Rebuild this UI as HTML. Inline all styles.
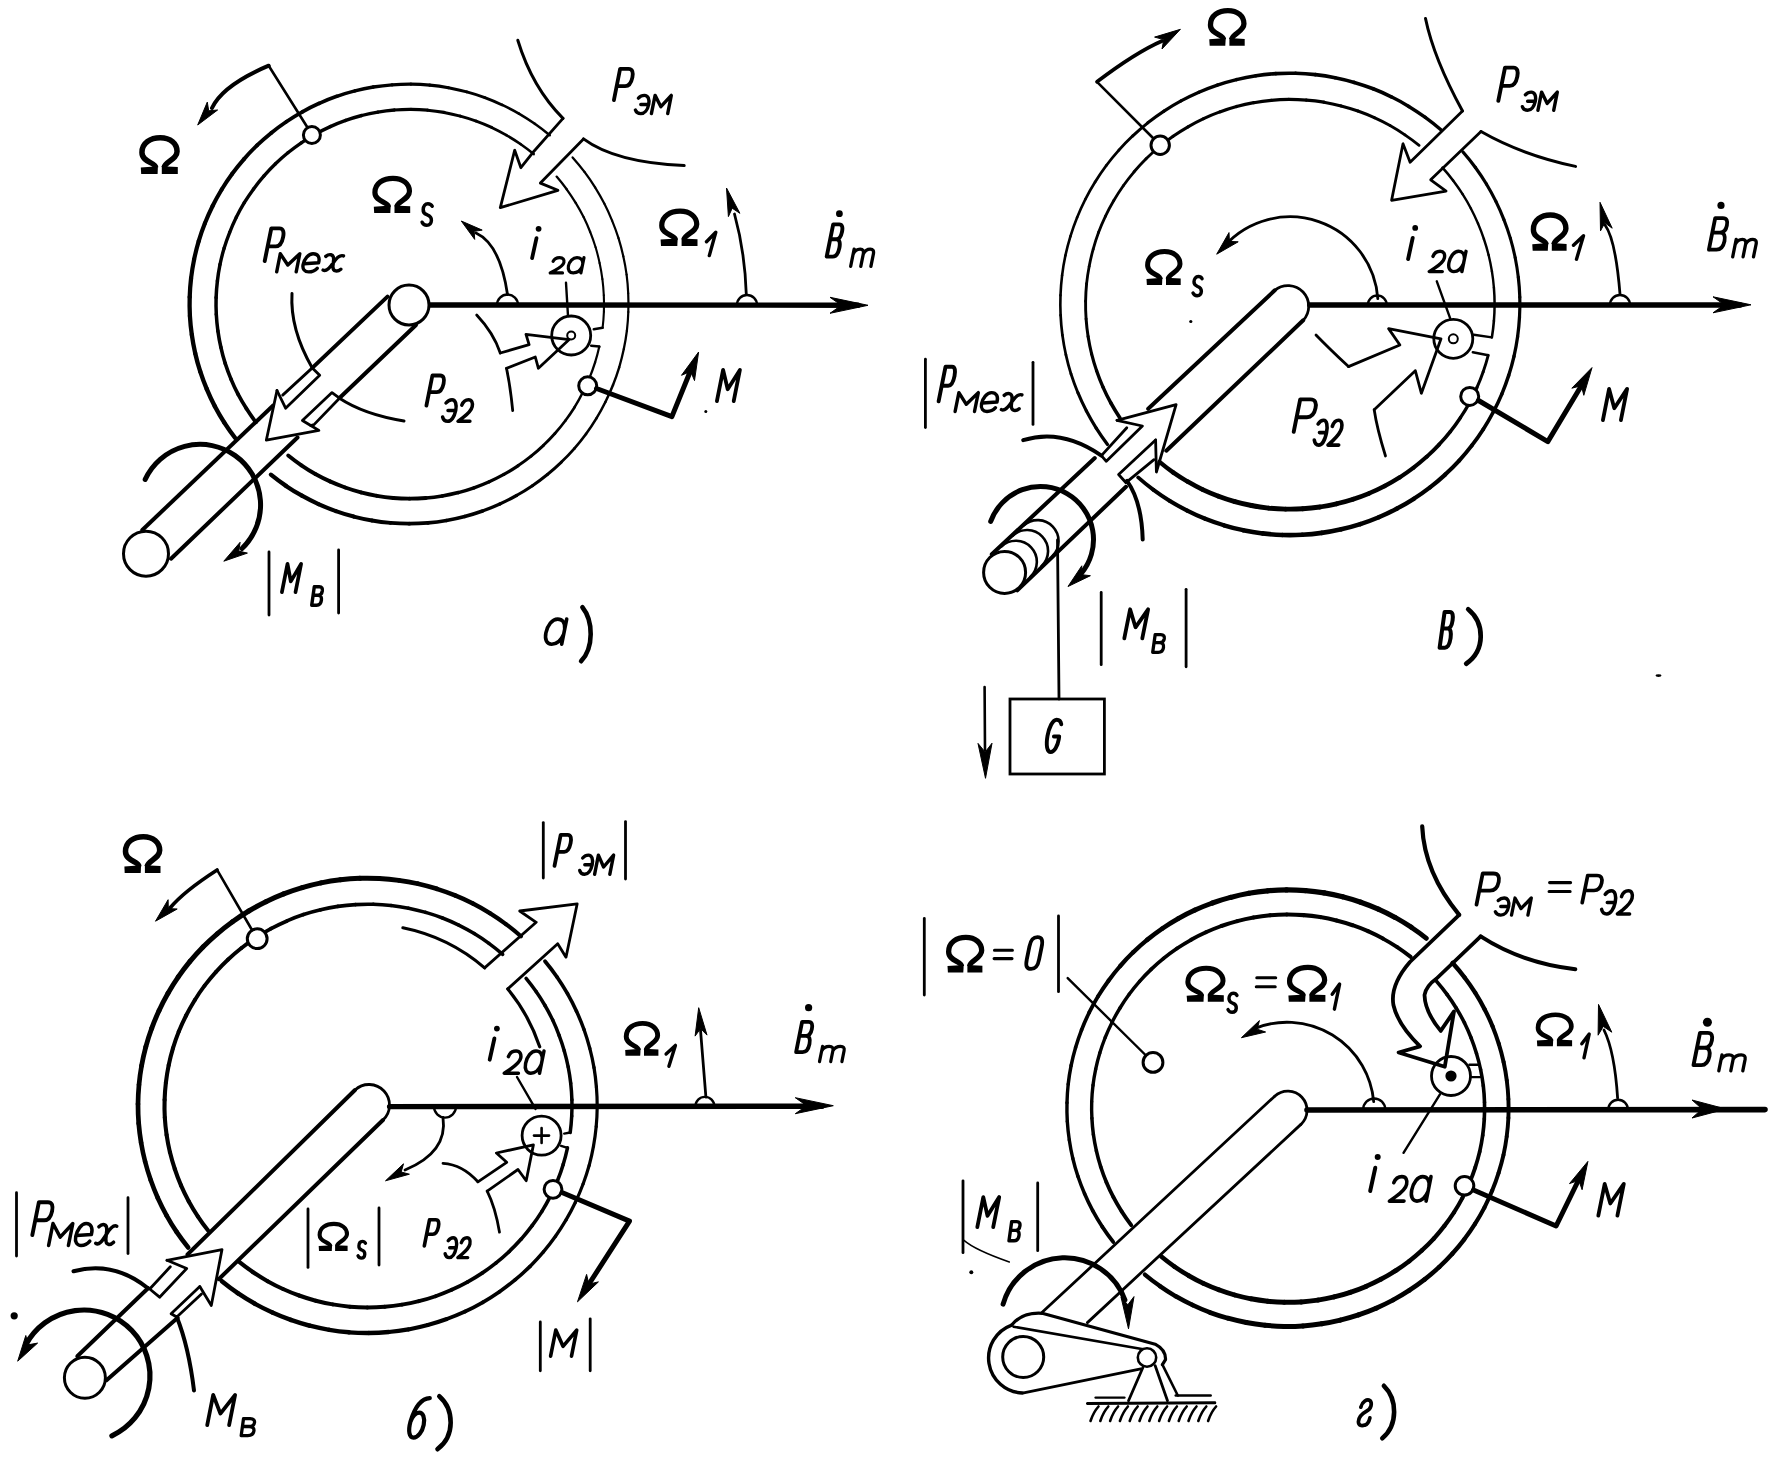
<!DOCTYPE html>
<html><head><meta charset="utf-8"><style>
html,body{margin:0;padding:0;background:#fff;width:1773px;height:1460px;overflow:hidden;}
svg{display:block;will-change:transform;}
</style></head><body>
<svg width="1773" height="1460" viewBox="0 0 1773 1460" stroke="#000" fill="none">
<rect width="1773" height="1460" fill="#fff" stroke="none"/>
<path d="M572.6,157.4 A219.4,219.8 0 0 1 584.5,171.9" stroke-width="2.3" fill="none" stroke-linecap="round" stroke-linejoin="round"/>
<path d="M584.5,171.9 A219.4,219.8 0 0 1 595.1,187.3" stroke-width="2.3" fill="none" stroke-linecap="round" stroke-linejoin="round"/>
<path d="M595.1,187.3 A219.4,219.8 0 0 1 604.3,203.6" stroke-width="2.2" fill="none" stroke-linecap="round" stroke-linejoin="round"/>
<path d="M604.3,203.6 A219.4,219.8 0 0 1 612.1,220.6" stroke-width="2.2" fill="none" stroke-linecap="round" stroke-linejoin="round"/>
<path d="M612.1,220.6 A219.4,219.8 0 0 1 618.5,238.2" stroke-width="2.2" fill="none" stroke-linecap="round" stroke-linejoin="round"/>
<path d="M618.5,238.2 A219.4,219.8 0 0 1 623.3,256.3" stroke-width="2.2" fill="none" stroke-linecap="round" stroke-linejoin="round"/>
<path d="M623.3,256.3 A219.4,219.8 0 0 1 626.6,274.7" stroke-width="2.2" fill="none" stroke-linecap="round" stroke-linejoin="round"/>
<path d="M626.6,274.7 A219.4,219.8 0 0 1 628.2,293.3" stroke-width="2.2" fill="none" stroke-linecap="round" stroke-linejoin="round"/>
<path d="M628.2,293.3 A219.4,219.8 0 0 1 628.3,312" stroke-width="2.2" fill="none" stroke-linecap="round" stroke-linejoin="round"/>
<path d="M628.3,312 A219.4,219.8 0 0 1 626.9,330.7" stroke-width="2.2" fill="none" stroke-linecap="round" stroke-linejoin="round"/>
<path d="M626.9,330.7 A219.4,219.8 0 0 1 623.8,349.1" stroke-width="2.3" fill="none" stroke-linecap="round" stroke-linejoin="round"/>
<path d="M623.8,349.1 A219.4,219.8 0 0 1 619.2,367.3" stroke-width="2.3" fill="none" stroke-linecap="round" stroke-linejoin="round"/>
<path d="M619.2,367.3 A219.4,219.8 0 0 1 613,385" stroke-width="2.4" fill="none" stroke-linecap="round" stroke-linejoin="round"/>
<path d="M613,385 A219.4,219.8 0 0 1 605.4,402" stroke-width="2.5" fill="none" stroke-linecap="round" stroke-linejoin="round"/>
<path d="M605.4,402 A219.4,219.8 0 0 1 596.4,418.4" stroke-width="2.5" fill="none" stroke-linecap="round" stroke-linejoin="round"/>
<path d="M596.4,418.4 A219.4,219.8 0 0 1 586,434" stroke-width="2.6" fill="none" stroke-linecap="round" stroke-linejoin="round"/>
<path d="M586,434 A219.4,219.8 0 0 1 574.3,448.6" stroke-width="2.7" fill="none" stroke-linecap="round" stroke-linejoin="round"/>
<path d="M574.3,448.6 A219.4,219.8 0 0 1 561.4,462.1" stroke-width="2.8" fill="none" stroke-linecap="round" stroke-linejoin="round"/>
<path d="M561.4,462.1 A219.4,219.8 0 0 1 547.4,474.5" stroke-width="2.9" fill="none" stroke-linecap="round" stroke-linejoin="round"/>
<path d="M547.4,474.5 A219.4,219.8 0 0 1 532.4,485.7" stroke-width="3" fill="none" stroke-linecap="round" stroke-linejoin="round"/>
<path d="M532.4,485.7 A219.4,219.8 0 0 1 516.5,495.5" stroke-width="3.1" fill="none" stroke-linecap="round" stroke-linejoin="round"/>
<path d="M516.5,495.5 A219.4,219.8 0 0 1 499.8,504" stroke-width="3.2" fill="none" stroke-linecap="round" stroke-linejoin="round"/>
<path d="M499.8,504 A219.4,219.8 0 0 1 482.5,511" stroke-width="3.3" fill="none" stroke-linecap="round" stroke-linejoin="round"/>
<path d="M482.5,511 A219.4,219.8 0 0 1 464.7,516.5" stroke-width="3.5" fill="none" stroke-linecap="round" stroke-linejoin="round"/>
<path d="M464.7,516.5 A219.4,219.8 0 0 1 446.4,520.5" stroke-width="3.6" fill="none" stroke-linecap="round" stroke-linejoin="round"/>
<path d="M446.4,520.5 A219.4,219.8 0 0 1 427.9,522.9" stroke-width="3.7" fill="none" stroke-linecap="round" stroke-linejoin="round"/>
<path d="M427.9,522.9 A219.4,219.8 0 0 1 409.2,523.7" stroke-width="3.8" fill="none" stroke-linecap="round" stroke-linejoin="round"/>
<path d="M409.2,523.7 A219.4,219.8 0 0 1 390.5,522.9" stroke-width="3.8" fill="none" stroke-linecap="round" stroke-linejoin="round"/>
<path d="M390.5,522.9 A219.4,219.8 0 0 1 372,520.5" stroke-width="3.9" fill="none" stroke-linecap="round" stroke-linejoin="round"/>
<path d="M372,520.5 A219.4,219.8 0 0 1 353.7,516.6" stroke-width="4" fill="none" stroke-linecap="round" stroke-linejoin="round"/>
<path d="M353.7,516.6 A219.4,219.8 0 0 1 335.9,511.1" stroke-width="4.1" fill="none" stroke-linecap="round" stroke-linejoin="round"/>
<path d="M335.9,511.1 A219.4,219.8 0 0 1 318.5,504.1" stroke-width="4.1" fill="none" stroke-linecap="round" stroke-linejoin="round"/>
<path d="M318.5,504.1 A219.4,219.8 0 0 1 301.9,495.7" stroke-width="4.2" fill="none" stroke-linecap="round" stroke-linejoin="round"/>
<path d="M301.9,495.7 A219.4,219.8 0 0 1 286,485.9" stroke-width="4.2" fill="none" stroke-linecap="round" stroke-linejoin="round"/>
<path d="M286,485.9 A219.4,219.8 0 0 1 270.9,474.7" stroke-width="4.3" fill="none" stroke-linecap="round" stroke-linejoin="round"/>
<path d="M235.2,438 A219.4,219.8 0 0 1 224.3,422.6" stroke-width="4.4" fill="none" stroke-linecap="round" stroke-linejoin="round"/>
<path d="M224.3,422.6 A219.4,219.8 0 0 1 214.8,406.2" stroke-width="4.4" fill="none" stroke-linecap="round" stroke-linejoin="round"/>
<path d="M214.8,406.2 A219.4,219.8 0 0 1 206.8,389.1" stroke-width="4.4" fill="none" stroke-linecap="round" stroke-linejoin="round"/>
<path d="M206.8,389.1 A219.4,219.8 0 0 1 200.2,371.4" stroke-width="4.4" fill="none" stroke-linecap="round" stroke-linejoin="round"/>
<path d="M200.2,371.4 A219.4,219.8 0 0 1 195.2,353.2" stroke-width="4.4" fill="none" stroke-linecap="round" stroke-linejoin="round"/>
<path d="M195.2,353.2 A219.4,219.8 0 0 1 191.8,334.6" stroke-width="4.3" fill="none" stroke-linecap="round" stroke-linejoin="round"/>
<path d="M191.8,334.6 A219.4,219.8 0 0 1 189.9,315.8" stroke-width="4.3" fill="none" stroke-linecap="round" stroke-linejoin="round"/>
<path d="M189.9,315.8 A219.4,219.8 0 0 1 189.7,297" stroke-width="4.3" fill="none" stroke-linecap="round" stroke-linejoin="round"/>
<path d="M189.7,297 A219.4,219.8 0 0 1 191.1,278.1" stroke-width="4.3" fill="none" stroke-linecap="round" stroke-linejoin="round"/>
<path d="M191.1,278.1 A219.4,219.8 0 0 1 194.1,259.5" stroke-width="4.2" fill="none" stroke-linecap="round" stroke-linejoin="round"/>
<path d="M194.1,259.5 A219.4,219.8 0 0 1 198.7,241.1" stroke-width="4.2" fill="none" stroke-linecap="round" stroke-linejoin="round"/>
<path d="M198.7,241.1 A219.4,219.8 0 0 1 204.9,223.3" stroke-width="4.2" fill="none" stroke-linecap="round" stroke-linejoin="round"/>
<path d="M204.9,223.3 A219.4,219.8 0 0 1 212.6,206" stroke-width="4.1" fill="none" stroke-linecap="round" stroke-linejoin="round"/>
<path d="M212.6,206 A219.4,219.8 0 0 1 221.7,189.5" stroke-width="4.1" fill="none" stroke-linecap="round" stroke-linejoin="round"/>
<path d="M221.7,189.5 A219.4,219.8 0 0 1 232.2,173.8" stroke-width="4" fill="none" stroke-linecap="round" stroke-linejoin="round"/>
<path d="M232.2,173.8 A219.4,219.8 0 0 1 244,159.1" stroke-width="4" fill="none" stroke-linecap="round" stroke-linejoin="round"/>
<path d="M244,159.1 A219.4,219.8 0 0 1 257,145.4" stroke-width="3.9" fill="none" stroke-linecap="round" stroke-linejoin="round"/>
<path d="M257,145.4 A219.4,219.8 0 0 1 271.2,132.9" stroke-width="3.9" fill="none" stroke-linecap="round" stroke-linejoin="round"/>
<path d="M271.2,132.9 A219.4,219.8 0 0 1 286.3,121.7" stroke-width="3.8" fill="none" stroke-linecap="round" stroke-linejoin="round"/>
<path d="M286.3,121.7 A219.4,219.8 0 0 1 302.4,111.8" stroke-width="3.7" fill="none" stroke-linecap="round" stroke-linejoin="round"/>
<path d="M302.4,111.8 A219.4,219.8 0 0 1 319.3,103.3" stroke-width="3.7" fill="none" stroke-linecap="round" stroke-linejoin="round"/>
<path d="M319.3,103.3 A219.4,219.8 0 0 1 336.8,96.3" stroke-width="3.6" fill="none" stroke-linecap="round" stroke-linejoin="round"/>
<path d="M336.8,96.3 A219.4,219.8 0 0 1 354.9,90.9" stroke-width="3.5" fill="none" stroke-linecap="round" stroke-linejoin="round"/>
<path d="M354.9,90.9 A219.4,219.8 0 0 1 373.3,87" stroke-width="3.4" fill="none" stroke-linecap="round" stroke-linejoin="round"/>
<path d="M373.3,87 A219.4,219.8 0 0 1 392.1,84.8" stroke-width="3.3" fill="none" stroke-linecap="round" stroke-linejoin="round"/>
<path d="M392.1,84.8 A219.4,219.8 0 0 1 410.9,84.1" stroke-width="3.2" fill="none" stroke-linecap="round" stroke-linejoin="round"/>
<path d="M410.9,84.1 A219.4,219.8 0 0 1 429.8,85.1" stroke-width="3.1" fill="none" stroke-linecap="round" stroke-linejoin="round"/>
<path d="M429.8,85.1 A219.4,219.8 0 0 1 448.4,87.7" stroke-width="3.1" fill="none" stroke-linecap="round" stroke-linejoin="round"/>
<path d="M448.4,87.7 A219.4,219.8 0 0 1 466.8,91.9" stroke-width="3" fill="none" stroke-linecap="round" stroke-linejoin="round"/>
<path d="M466.8,91.9 A219.4,219.8 0 0 1 484.8,97.6" stroke-width="2.9" fill="none" stroke-linecap="round" stroke-linejoin="round"/>
<path d="M484.8,97.6 A219.4,219.8 0 0 1 502.2,104.9" stroke-width="2.8" fill="none" stroke-linecap="round" stroke-linejoin="round"/>
<path d="M502.2,104.9 A219.4,219.8 0 0 1 518.9,113.6" stroke-width="2.7" fill="none" stroke-linecap="round" stroke-linejoin="round"/>
<path d="M518.9,113.6 A219.4,219.8 0 0 1 534.8,123.8" stroke-width="2.6" fill="none" stroke-linecap="round" stroke-linejoin="round"/>
<path d="M534.8,123.8 A219.4,219.8 0 0 1 549.8,135.3" stroke-width="2.5" fill="none" stroke-linecap="round" stroke-linejoin="round"/>
<path d="M556.6,176.6 A194,194.7 0 0 1 566.7,189.3" stroke-width="2.3" fill="none" stroke-linecap="round" stroke-linejoin="round"/>
<path d="M566.7,189.3 A194,194.7 0 0 1 575.7,202.9" stroke-width="2.3" fill="none" stroke-linecap="round" stroke-linejoin="round"/>
<path d="M575.7,202.9 A194,194.7 0 0 1 583.6,217.1" stroke-width="2.2" fill="none" stroke-linecap="round" stroke-linejoin="round"/>
<path d="M583.6,217.1 A194,194.7 0 0 1 590.2,232" stroke-width="2.2" fill="none" stroke-linecap="round" stroke-linejoin="round"/>
<path d="M590.2,232 A194,194.7 0 0 1 595.6,247.3" stroke-width="2.1" fill="none" stroke-linecap="round" stroke-linejoin="round"/>
<path d="M595.6,247.3 A194,194.7 0 0 1 599.6,263" stroke-width="2.1" fill="none" stroke-linecap="round" stroke-linejoin="round"/>
<path d="M599.6,263 A194,194.7 0 0 1 602.4,279.1" stroke-width="2.1" fill="none" stroke-linecap="round" stroke-linejoin="round"/>
<path d="M602.4,279.1 A194,194.7 0 0 1 603.8,295.3" stroke-width="2.1" fill="none" stroke-linecap="round" stroke-linejoin="round"/>
<path d="M603.8,295.3 A194,194.7 0 0 1 603.9,311.6" stroke-width="2.1" fill="none" stroke-linecap="round" stroke-linejoin="round"/>
<path d="M603.9,311.6 A194,194.7 0 0 1 602.6,327.8" stroke-width="2.1" fill="none" stroke-linecap="round" stroke-linejoin="round"/>
<path d="M599.3,346.5 A194,194.7 0 0 1 595.1,362.4" stroke-width="2.2" fill="none" stroke-linecap="round" stroke-linejoin="round"/>
<path d="M595.1,362.4 A194,194.7 0 0 1 589.5,377.9" stroke-width="2.3" fill="none" stroke-linecap="round" stroke-linejoin="round"/>
<path d="M589.5,377.9 A194,194.7 0 0 1 582.6,392.8" stroke-width="2.4" fill="none" stroke-linecap="round" stroke-linejoin="round"/>
<path d="M582.6,392.8 A194,194.7 0 0 1 574.6,407.2" stroke-width="2.5" fill="none" stroke-linecap="round" stroke-linejoin="round"/>
<path d="M574.6,407.2 A194,194.7 0 0 1 565.3,420.7" stroke-width="2.6" fill="none" stroke-linecap="round" stroke-linejoin="round"/>
<path d="M565.3,420.7 A194,194.7 0 0 1 554.9,433.5" stroke-width="2.7" fill="none" stroke-linecap="round" stroke-linejoin="round"/>
<path d="M554.9,433.5 A194,194.7 0 0 1 543.5,445.3" stroke-width="2.8" fill="none" stroke-linecap="round" stroke-linejoin="round"/>
<path d="M543.5,445.3 A194,194.7 0 0 1 531.1,456.1" stroke-width="3" fill="none" stroke-linecap="round" stroke-linejoin="round"/>
<path d="M531.1,456.1 A194,194.7 0 0 1 517.9,465.8" stroke-width="3.1" fill="none" stroke-linecap="round" stroke-linejoin="round"/>
<path d="M517.9,465.8 A194,194.7 0 0 1 503.9,474.4" stroke-width="3.2" fill="none" stroke-linecap="round" stroke-linejoin="round"/>
<path d="M503.9,474.4 A194,194.7 0 0 1 489.2,481.7" stroke-width="3.3" fill="none" stroke-linecap="round" stroke-linejoin="round"/>
<path d="M489.2,481.7 A194,194.7 0 0 1 474,487.8" stroke-width="3.4" fill="none" stroke-linecap="round" stroke-linejoin="round"/>
<path d="M474,487.8 A194,194.7 0 0 1 458.3,492.6" stroke-width="3.5" fill="none" stroke-linecap="round" stroke-linejoin="round"/>
<path d="M458.3,492.6 A194,194.7 0 0 1 442.2,496" stroke-width="3.6" fill="none" stroke-linecap="round" stroke-linejoin="round"/>
<path d="M442.2,496 A194,194.7 0 0 1 425.9,498" stroke-width="3.7" fill="none" stroke-linecap="round" stroke-linejoin="round"/>
<path d="M425.9,498 A194,194.7 0 0 1 409.5,498.7" stroke-width="3.8" fill="none" stroke-linecap="round" stroke-linejoin="round"/>
<path d="M409.5,498.7 A194,194.7 0 0 1 393.2,498" stroke-width="3.8" fill="none" stroke-linecap="round" stroke-linejoin="round"/>
<path d="M393.2,498 A194,194.7 0 0 1 376.9,495.8" stroke-width="3.9" fill="none" stroke-linecap="round" stroke-linejoin="round"/>
<path d="M376.9,495.8 A194,194.7 0 0 1 360.9,492.4" stroke-width="3.9" fill="none" stroke-linecap="round" stroke-linejoin="round"/>
<path d="M360.9,492.4 A194,194.7 0 0 1 345.2,487.5" stroke-width="3.9" fill="none" stroke-linecap="round" stroke-linejoin="round"/>
<path d="M345.2,487.5 A194,194.7 0 0 1 330,481.4" stroke-width="3.9" fill="none" stroke-linecap="round" stroke-linejoin="round"/>
<path d="M330,481.4 A194,194.7 0 0 1 315.3,474" stroke-width="3.9" fill="none" stroke-linecap="round" stroke-linejoin="round"/>
<path d="M315.3,474 A194,194.7 0 0 1 301.4,465.3" stroke-width="3.9" fill="none" stroke-linecap="round" stroke-linejoin="round"/>
<path d="M301.4,465.3 A194,194.7 0 0 1 288.2,455.5" stroke-width="3.9" fill="none" stroke-linecap="round" stroke-linejoin="round"/>
<path d="M255.9,422.3 A194,194.7 0 0 1 246.4,408.6" stroke-width="3.8" fill="none" stroke-linecap="round" stroke-linejoin="round"/>
<path d="M246.4,408.6 A194,194.7 0 0 1 238,394.2" stroke-width="3.7" fill="none" stroke-linecap="round" stroke-linejoin="round"/>
<path d="M238,394.2 A194,194.7 0 0 1 231,379.1" stroke-width="3.7" fill="none" stroke-linecap="round" stroke-linejoin="round"/>
<path d="M231,379.1 A194,194.7 0 0 1 225.2,363.4" stroke-width="3.6" fill="none" stroke-linecap="round" stroke-linejoin="round"/>
<path d="M225.2,363.4 A194,194.7 0 0 1 220.9,347.3" stroke-width="3.6" fill="none" stroke-linecap="round" stroke-linejoin="round"/>
<path d="M220.9,347.3 A194,194.7 0 0 1 217.9,330.9" stroke-width="3.6" fill="none" stroke-linecap="round" stroke-linejoin="round"/>
<path d="M217.9,330.9 A194,194.7 0 0 1 216.3,314.3" stroke-width="3.5" fill="none" stroke-linecap="round" stroke-linejoin="round"/>
<path d="M216.3,314.3 A194,194.7 0 0 1 216.1,297.6" stroke-width="3.5" fill="none" stroke-linecap="round" stroke-linejoin="round"/>
<path d="M216.1,297.6 A194,194.7 0 0 1 217.4,281" stroke-width="3.5" fill="none" stroke-linecap="round" stroke-linejoin="round"/>
<path d="M217.4,281 A194,194.7 0 0 1 220,264.5" stroke-width="3.5" fill="none" stroke-linecap="round" stroke-linejoin="round"/>
<path d="M220,264.5 A194,194.7 0 0 1 224.1,248.3" stroke-width="3.4" fill="none" stroke-linecap="round" stroke-linejoin="round"/>
<path d="M224.1,248.3 A194,194.7 0 0 1 229.6,232.6" stroke-width="3.4" fill="none" stroke-linecap="round" stroke-linejoin="round"/>
<path d="M229.6,232.6 A194,194.7 0 0 1 236.3,217.3" stroke-width="3.4" fill="none" stroke-linecap="round" stroke-linejoin="round"/>
<path d="M236.3,217.3 A194,194.7 0 0 1 244.3,202.7" stroke-width="3.4" fill="none" stroke-linecap="round" stroke-linejoin="round"/>
<path d="M244.3,202.7 A194,194.7 0 0 1 253.6,188.9" stroke-width="3.4" fill="none" stroke-linecap="round" stroke-linejoin="round"/>
<path d="M253.6,188.9 A194,194.7 0 0 1 264,175.9" stroke-width="3.4" fill="none" stroke-linecap="round" stroke-linejoin="round"/>
<path d="M264,175.9 A194,194.7 0 0 1 275.5,163.8" stroke-width="3.4" fill="none" stroke-linecap="round" stroke-linejoin="round"/>
<path d="M275.5,163.8 A194,194.7 0 0 1 287.9,152.8" stroke-width="3.4" fill="none" stroke-linecap="round" stroke-linejoin="round"/>
<path d="M287.9,152.8 A194,194.7 0 0 1 301.3,142.8" stroke-width="3.4" fill="none" stroke-linecap="round" stroke-linejoin="round"/>
<path d="M301.3,142.8 A194,194.7 0 0 1 315.5,134.1" stroke-width="3.4" fill="none" stroke-linecap="round" stroke-linejoin="round"/>
<path d="M315.5,134.1 A194,194.7 0 0 1 330.3,126.6" stroke-width="3.4" fill="none" stroke-linecap="round" stroke-linejoin="round"/>
<path d="M330.3,126.6 A194,194.7 0 0 1 345.7,120.4" stroke-width="3.4" fill="none" stroke-linecap="round" stroke-linejoin="round"/>
<path d="M345.7,120.4 A194,194.7 0 0 1 361.7,115.5" stroke-width="3.4" fill="none" stroke-linecap="round" stroke-linejoin="round"/>
<path d="M361.7,115.5 A194,194.7 0 0 1 377.9,112.1" stroke-width="3.3" fill="none" stroke-linecap="round" stroke-linejoin="round"/>
<path d="M377.9,112.1 A194,194.7 0 0 1 394.4,110" stroke-width="3.3" fill="none" stroke-linecap="round" stroke-linejoin="round"/>
<path d="M394.4,110 A194,194.7 0 0 1 411,109.4" stroke-width="3.2" fill="none" stroke-linecap="round" stroke-linejoin="round"/>
<path d="M411,109.4 A194,194.7 0 0 1 427.6,110.2" stroke-width="3.2" fill="none" stroke-linecap="round" stroke-linejoin="round"/>
<path d="M427.6,110.2 A194,194.7 0 0 1 444.1,112.4" stroke-width="3.1" fill="none" stroke-linecap="round" stroke-linejoin="round"/>
<path d="M444.1,112.4 A194,194.7 0 0 1 460.3,116.1" stroke-width="3" fill="none" stroke-linecap="round" stroke-linejoin="round"/>
<path d="M460.3,116.1 A194,194.7 0 0 1 476.2,121.1" stroke-width="2.9" fill="none" stroke-linecap="round" stroke-linejoin="round"/>
<path d="M476.2,121.1 A194,194.7 0 0 1 491.6,127.4" stroke-width="2.9" fill="none" stroke-linecap="round" stroke-linejoin="round"/>
<path d="M491.6,127.4 A194,194.7 0 0 1 506.3,135.1" stroke-width="2.8" fill="none" stroke-linecap="round" stroke-linejoin="round"/>
<path d="M506.3,135.1 A194,194.7 0 0 1 520.4,144" stroke-width="2.7" fill="none" stroke-linecap="round" stroke-linejoin="round"/>
<path d="M520.4,144 A194,194.7 0 0 1 533.7,154.1" stroke-width="2.6" fill="none" stroke-linecap="round" stroke-linejoin="round"/>
<path d="M602.6,327.8 L593.8,329.3" stroke-width="2.6" fill="none" stroke-linecap="round" stroke-linejoin="round"/>
<path d="M599.3,346.5 L591.2,345.7" stroke-width="2.6" fill="none" stroke-linecap="round" stroke-linejoin="round"/>
<path d="M429,305 L858,305.2" stroke-width="5.4" fill="none" stroke-linecap="round" stroke-linejoin="round"/>
<path d="M868,305.3 L830,313.3 L841.4,305.3 L830,297.3 Z" stroke-width="1" fill="#000" stroke-linejoin="round"/>
<path d="M497,305 A10.5,10.5 0 0 1 518,305" stroke-width="2.4" fill="none" stroke-linecap="round" stroke-linejoin="round"/>
<path d="M737,305 A10,10 0 0 1 757,305" stroke-width="2.4" fill="none" stroke-linecap="round" stroke-linejoin="round"/>
<path d="M387.5,296.6 L312.3,367.9" stroke-width="4" fill="none" stroke-linecap="round" stroke-linejoin="round"/>
<path d="M272.9,405.7 L142.3,530" stroke-width="4" fill="none" stroke-linecap="round" stroke-linejoin="round"/>
<path d="M416,325 L339.5,398" stroke-width="4" fill="none" stroke-linecap="round" stroke-linejoin="round"/>
<path d="M297.5,437.5 L171,558.7" stroke-width="4" fill="none" stroke-linecap="round" stroke-linejoin="round"/>
<circle cx="409" cy="305" r="20" stroke-width="3" fill="#fff"/>
<circle cx="146" cy="553.7" r="22.5" stroke-width="3" fill="#fff"/>
<path d="M277,390.5 L285.6,408.2 L319.7,375.3 L312.3,367.9 L282.7,395.1" stroke-width="2.8" fill="none" stroke-linecap="round" stroke-linejoin="round"/>
<path d="M277,390.5 L266.3,440.2 L318.9,430.4 L310.7,425.5" stroke-width="2.8" fill="none" stroke-linecap="round" stroke-linejoin="round"/>
<path d="M310.7,425.5 L302.4,420.5 L332,392.6 L339.5,398.2 L314,424.6 L310.7,425.5" stroke-width="2.8" fill="none" stroke-linecap="round" stroke-linejoin="round"/>
<path d="M292,293.5 Q289.9,329.3 312.3,367.9" stroke-width="3" fill="none" stroke-linecap="round" stroke-linejoin="round"/>
<path d="M339.5,398.2 Q364.2,414.5 404,420.9" stroke-width="3" fill="none" stroke-linecap="round" stroke-linejoin="round"/>
<path d="M145.2,479.4 A60.5,60.5 0 1 1 242,548.5" stroke-width="5" fill="none" stroke-linecap="round" stroke-linejoin="round"/>
<path d="M223.8,561.2 L240.1,542.3 L238.8,551.1 L247.4,553.1 Z" stroke-width="1" fill="#000" stroke-linejoin="round"/>
<circle cx="311.9" cy="135" r="8.5" stroke-width="3" fill="#fff"/>
<path d="M307.5,127.5 L268.7,65.7" stroke-width="2.6" fill="none" stroke-linecap="round" stroke-linejoin="round"/>
<path d="M268.7,65.7 Q222.7,85.2 212,108" stroke-width="4" fill="none" stroke-linecap="round" stroke-linejoin="round"/>
<path d="M197.7,125 L207.3,102.1 L208.7,110.8 L217.6,110 Z" stroke-width="1" fill="#000" stroke-linejoin="round"/>
<path d="M507.5,294.5 Q500.2,244.2 476,233" stroke-width="2.8" fill="none" stroke-linecap="round" stroke-linejoin="round"/>
<path d="M461.3,221 L482.2,230.1 L474.2,231.3 L474.7,239.4 Z" stroke-width="1" fill="#000" stroke-linejoin="round"/>
<path d="M746.3,294.5 Q745,252.4 734.5,214" stroke-width="2.8" fill="none" stroke-linecap="round" stroke-linejoin="round"/>
<path d="M726.5,188 L739.9,213.3 L732.2,208.2 L728.4,216.6 Z" stroke-width="1" fill="#000" stroke-linejoin="round"/>
<circle cx="587.7" cy="385.8" r="9" stroke-width="3" fill="#fff"/>
<path d="M596.5,388.5 L671.9,416.6 L690,372" stroke-width="5" fill="none" stroke-linecap="round" stroke-linejoin="round"/>
<path d="M698.6,352 L694.5,380.6 L690.7,371.4 L681.5,375.3 Z" stroke-width="1" fill="#000" stroke-linejoin="round"/>
<circle cx="571.2" cy="335.5" r="19.5" stroke-width="2.8" fill="#fff"/>
<circle cx="571.2" cy="335.5" r="4" stroke-width="2" fill="#fff"/>
<path d="M566,282.7 L568,316" stroke-width="2.4" fill="none" stroke-linecap="round" stroke-linejoin="round"/>
<path d="M476.7,315 Q493.5,332.8 500.3,353" stroke-width="2.8" fill="none" stroke-linecap="round" stroke-linejoin="round"/>
<path d="M500.3,353 L529.1,344.7 L526,334.4 L569.2,339.6 L538.4,368.3 L535.3,357 L506.5,368.3" stroke-width="2.8" fill="none" stroke-linecap="round" stroke-linejoin="round"/>
<path d="M506.5,368.3 Q510.4,386.6 512.7,410.5" stroke-width="2.8" fill="none" stroke-linecap="round" stroke-linejoin="round"/>
<path d="M517.8,40.3 Q532.2,87.5 563,118.4" stroke-width="3" fill="none" stroke-linecap="round" stroke-linejoin="round"/>
<path d="M563,118.4 L532.2,153.3 L520.9,167.7 L514.7,150.2 L500.3,207.7 L557.9,190.3 L540.4,183.1 L583.5,138.9" stroke-width="2.8" fill="none" stroke-linecap="round" stroke-linejoin="round"/>
<path d="M583.5,138.9 Q615.4,162.6 684.2,165.6" stroke-width="3" fill="none" stroke-linecap="round" stroke-linejoin="round"/>
<path transform="matrix(39.000 0 0 39.000 140 135)" d="M0.40,0.83 C0.40,0.70 0.05,0.70 0.05,0.45 C0.05,0.20 0.27,0.07 0.52,0.07 C0.78,0.07 0.95,0.22 0.95,0.42 C0.95,0.63 0.64,0.68 0.62,0.83" fill="none" stroke-width="5.5" vector-effect="non-scaling-stroke" stroke-linecap="butt"/>
<path d="M140.8,167.4 L157.9,166.2 L157.6,174 L141.2,174 Z" stroke="none" fill="#000"/>
<path d="M161.8,166.2 L177.8,167 L177.8,174 L161.8,174 Z" stroke="none" fill="#000"/>
<path transform="matrix(38.400 0 0 37.300 373 175.7)" d="M0.40,0.83 C0.40,0.70 0.05,0.70 0.05,0.45 C0.05,0.20 0.27,0.07 0.52,0.07 C0.78,0.07 0.95,0.22 0.95,0.42 C0.95,0.63 0.64,0.68 0.62,0.83" fill="none" stroke-width="5.2" vector-effect="non-scaling-stroke" stroke-linecap="butt"/>
<path d="M373.8,206.7 L390.7,205.5 L390.3,213 L374.2,213 Z" stroke="none" fill="#000"/>
<path d="M394.5,205.5 L410.2,206.3 L410.2,213 L394.5,213 Z" stroke="none" fill="#000"/>
<path d="M 432.2,206.3 C 431.3,204.4 429.9,203.7 427.9,203.7 C 425.2,203.7 423.4,206.3 423.2,209.5 C 422.9,213.4 425.4,214.1 427.3,214.9 C 429.7,215.8 431.6,217.1 431.4,220.5 C 431.2,223.8 429.1,225.3 426.7,225.3 C 424.7,225.3 423,224.2 422.1,222.2" stroke-width="3.5" fill="none" stroke-linecap="round" stroke-linejoin="round"/>
<path d="M 264.7,261.1 L 271.3,228.4 L 279.4,228.4 C 283.5,228.4 284.1,232.4 283.1,237.2 C 282.1,242.5 279.6,246.4 275.8,246.4 L 267.7,246.4" stroke-width="3.9" fill="none" stroke-linecap="round" stroke-linejoin="round"/>
<path d="M 276.7,271.9 L 280.3,253.7 L 287.8,265 L 299.8,253.7 L 296.2,271.9" stroke-width="3.4" fill="none" stroke-linecap="round" stroke-linejoin="round"/>
<path d="M 304.1,263.7 L 318.6,262.8 C 320.2,257.3 317.8,253.7 313.1,253.7 C 308.4,253.7 304.2,259.2 303.1,264.6 C 302.2,269.2 304.8,271.9 308.7,271.9 C 312.6,271.9 315.2,270.5 317.2,268.3" stroke-width="3.4" fill="none" stroke-linecap="round" stroke-linejoin="round"/>
<path d="M 325.8,256.4 C 329,253.7 333.7,253.7 333.7,259.2 L 332.9,266.4 C 332.9,271.9 337.6,271.9 340.8,269.2 M 343.5,255.9 C 340.2,254.6 337,257.3 333.3,262.8 C 329.6,268.3 326.2,271.9 323.1,270.1" stroke-width="3.4" fill="none" stroke-linecap="round" stroke-linejoin="round"/>
<path d="M 613.9,100.1 L 620.1,68.9 L 628.5,68.9 C 632.7,68.9 633.3,72.7 632.4,77.3 C 631.4,82.3 629,86.1 625.1,86.1 L 616.7,86.1" stroke-width="3.8" fill="none" stroke-linecap="round" stroke-linejoin="round"/>
<path d="M 638.4,98.1 C 640.7,95.7 642.6,95.4 644.4,95.4 C 648.1,95.4 649.7,99.4 648.7,104.5 C 647.6,110 644.4,113.6 640.8,113.6 C 638.3,113.6 636.3,112.7 635.4,110 M 640.8,104.5 L 648.7,104.5" stroke-width="3.4" fill="none" stroke-linecap="round" stroke-linejoin="round"/>
<path d="M 651.4,113.6 L 655.1,95.4 L 660.9,106.7 L 671.3,95.4 L 667.7,113.6" stroke-width="3.4" fill="none" stroke-linecap="round" stroke-linejoin="round"/>
<path d="M 536.5,238.1 L 532.1,258.1" stroke-width="3.8" fill="none" stroke-linecap="round" stroke-linejoin="round"/>
<circle cx="538.6" cy="228.8" r="2.9" stroke="none" fill="#000"/>
<path d="M 553.1,261.4 C 554.3,258.8 556.9,257.6 559.6,257.6 C 563.1,257.6 564.5,259.8 563.9,262.5 C 563.3,265.6 559.2,268 555,270.3 L 550.2,272.9 L 562.5,272.9" stroke-width="3.2" fill="none" stroke-linecap="round" stroke-linejoin="round"/>
<path d="M 584,257.6 L 580.9,272.9 M 582.8,263.7 C 582.9,259.5 580.5,257.6 577,257.6 C 572.9,257.6 569.3,261.4 568.4,266 C 567.6,270.1 569.5,272.9 573.3,272.9 C 577,272.9 580.3,270.6 582.1,266.8" stroke-width="3.2" fill="none" stroke-linecap="round" stroke-linejoin="round"/>
<path transform="matrix(38.900 0 0 37.400 659.8 208.6)" d="M0.40,0.83 C0.40,0.70 0.05,0.70 0.05,0.45 C0.05,0.20 0.27,0.07 0.52,0.07 C0.78,0.07 0.95,0.22 0.95,0.42 C0.95,0.63 0.64,0.68 0.62,0.83" fill="none" stroke-width="5.2" vector-effect="non-scaling-stroke" stroke-linecap="butt"/>
<path d="M660.6,239.6 L677.7,238.5 L677.3,246 L661,246 Z" stroke="none" fill="#000"/>
<path d="M681.6,238.5 L697.5,239.3 L697.5,246 L681.6,246 Z" stroke="none" fill="#000"/>
<path d="M706.5,241.8 L715.8,232.3 L709.3,255.6" stroke-width="3.4" fill="none" stroke-linecap="round" stroke-linejoin="round"/>
<path d="M 826.7,256.6 L 833.2,224.4 L 839.2,224.4 C 842.4,224.4 842.9,227.6 842,231.8 C 841.1,236.3 839.1,239.2 836.2,239.2 L 830.2,239.2 M 836.2,239.2 C 839.8,239.2 840.3,243.1 839.4,247.9 C 838.3,253.4 836,256.6 832.7,256.6 L 826.7,256.6" stroke-width="3.9" fill="none" stroke-linecap="round" stroke-linejoin="round"/>
<circle cx="839.4" cy="213.7" r="3.4" stroke="none" fill="#000"/>
<path d="M 850.7,266.3 L 854.1,249.2 M 853.1,254.3 C 854.8,250.5 857.7,249.2 860.2,249.2 C 863,249.2 863.9,250.9 863.3,254 L 860.8,266.3 M 863.3,254 C 865,250.5 867.9,249.2 870.3,249.2 C 873.1,249.2 874,250.9 873.4,254 L 870.9,266.3" stroke-width="3.3" fill="none" stroke-linecap="round" stroke-linejoin="round"/>
<path d="M 716.9,401.1 L 723.1,369.9 L 727.7,389.2 L 739.9,369.9 L 733.7,401.1" stroke-width="3.8" fill="none" stroke-linecap="round" stroke-linejoin="round"/>
<circle cx="705.8" cy="411.5" r="1.5" stroke="none" fill="#000"/>
<path d="M 426.4,405.6 L 432.4,375.5 L 440.1,375.5 C 443.9,375.5 444.5,379.1 443.6,383.6 C 442.6,388.4 440.4,392.1 436.8,392.1 L 429.1,392.1" stroke-width="3.8" fill="none" stroke-linecap="round" stroke-linejoin="round"/>
<path d="M 446,403 C 448.3,400.2 450.2,399.7 452,399.7 C 455.5,399.7 456.9,404.5 455.7,410.5 C 454.4,417 451.2,421.3 447.7,421.3 C 445.3,421.3 443.4,420.2 442.6,417 M 448,410.5 L 455.7,410.5" stroke-width="3.5" fill="none" stroke-linecap="round" stroke-linejoin="round"/>
<path d="M 461.8,405.1 C 463.2,401.5 465.9,399.7 468.5,399.7 C 471.8,399.7 473,402.8 472.2,406.6 C 471.3,410.9 467.1,414.4 462.9,417.6 L 458,421.3 L 469.9,421.3" stroke-width="3.5" fill="none" stroke-linecap="round" stroke-linejoin="round"/>
<path d="M269,552 L269,615" stroke-width="2.8" fill="none" stroke-linecap="round" stroke-linejoin="round"/>
<path d="M338.6,550 L338.6,613" stroke-width="2.8" fill="none" stroke-linecap="round" stroke-linejoin="round"/>
<path d="M 281.9,592.1 L 287.5,563.9 L 290.8,581.4 L 301.1,563.9 L 295.5,592.1" stroke-width="3.7" fill="none" stroke-linecap="round" stroke-linejoin="round"/>
<path d="M 311.7,605.3 L 314.3,586.7 L 319.3,586.7 C 322,586.7 322.6,588.5 322.3,591 C 321.9,593.6 320.5,595.3 318.1,595.3 L 313.1,595.3 M 318.1,595.3 C 321,595.3 321.8,597.5 321.4,600.3 C 321,603.5 319.4,605.3 316.6,605.3 L 311.7,605.3" stroke-width="3.4" fill="none" stroke-linecap="round" stroke-linejoin="round"/>
<path d="M 566.7,619.1 L 561.7,644.2 M 564.7,629.1 C 565.2,622.1 562.2,619.1 557.7,619.1 C 552.2,619.1 547.4,625.4 545.9,632.9 C 544.5,639.7 546.9,644.2 551.7,644.2 C 556.6,644.2 561,640.4 563.7,634.2" stroke-width="3.6" fill="none" stroke-linecap="round" stroke-linejoin="round"/>
<path d="M 582.4,607.3 C 593.3,620.8 594,647.7 581.1,661.2" stroke-width="4.6" fill="none" stroke-linecap="round" stroke-linejoin="round"/>
<path d="M545,961.3 A229.6,227.4 0 0 1 557,977" stroke-width="3.8" fill="none" stroke-linecap="round" stroke-linejoin="round"/>
<path d="M557,977 A229.6,227.4 0 0 1 567.5,993.7" stroke-width="3.7" fill="none" stroke-linecap="round" stroke-linejoin="round"/>
<path d="M567.5,993.7 A229.6,227.4 0 0 1 576.5,1011.3" stroke-width="3.6" fill="none" stroke-linecap="round" stroke-linejoin="round"/>
<path d="M576.5,1011.3 A229.6,227.4 0 0 1 584,1029.5" stroke-width="3.5" fill="none" stroke-linecap="round" stroke-linejoin="round"/>
<path d="M584,1029.5 A229.6,227.4 0 0 1 589.8,1048.4" stroke-width="3.4" fill="none" stroke-linecap="round" stroke-linejoin="round"/>
<path d="M589.8,1048.4 A229.6,227.4 0 0 1 594,1067.6" stroke-width="3.3" fill="none" stroke-linecap="round" stroke-linejoin="round"/>
<path d="M594,1067.6 A229.6,227.4 0 0 1 596.4,1087.2" stroke-width="3.3" fill="none" stroke-linecap="round" stroke-linejoin="round"/>
<path d="M596.4,1087.2 A229.6,227.4 0 0 1 597.2,1106.9" stroke-width="3.2" fill="none" stroke-linecap="round" stroke-linejoin="round"/>
<path d="M597.2,1106.9 A229.6,227.4 0 0 1 596.2,1126.5" stroke-width="3.2" fill="none" stroke-linecap="round" stroke-linejoin="round"/>
<path d="M596.2,1126.5 A229.6,227.4 0 0 1 593.5,1146.1" stroke-width="3.2" fill="none" stroke-linecap="round" stroke-linejoin="round"/>
<path d="M593.5,1146.1 A229.6,227.4 0 0 1 589.2,1165.3" stroke-width="3.2" fill="none" stroke-linecap="round" stroke-linejoin="round"/>
<path d="M589.2,1165.3 A229.6,227.4 0 0 1 583.1,1184" stroke-width="3.2" fill="none" stroke-linecap="round" stroke-linejoin="round"/>
<path d="M583.1,1184 A229.6,227.4 0 0 1 575.4,1202.2" stroke-width="3.2" fill="none" stroke-linecap="round" stroke-linejoin="round"/>
<path d="M575.4,1202.2 A229.6,227.4 0 0 1 566.2,1219.7" stroke-width="3.3" fill="none" stroke-linecap="round" stroke-linejoin="round"/>
<path d="M566.2,1219.7 A229.6,227.4 0 0 1 555.5,1236.3" stroke-width="3.3" fill="none" stroke-linecap="round" stroke-linejoin="round"/>
<path d="M555.5,1236.3 A229.6,227.4 0 0 1 543.4,1251.9" stroke-width="3.4" fill="none" stroke-linecap="round" stroke-linejoin="round"/>
<path d="M543.4,1251.9 A229.6,227.4 0 0 1 530,1266.4" stroke-width="3.5" fill="none" stroke-linecap="round" stroke-linejoin="round"/>
<path d="M530,1266.4 A229.6,227.4 0 0 1 515.3,1279.7" stroke-width="3.6" fill="none" stroke-linecap="round" stroke-linejoin="round"/>
<path d="M515.3,1279.7 A229.6,227.4 0 0 1 499.5,1291.7" stroke-width="3.7" fill="none" stroke-linecap="round" stroke-linejoin="round"/>
<path d="M499.5,1291.7 A229.6,227.4 0 0 1 482.8,1302.3" stroke-width="3.8" fill="none" stroke-linecap="round" stroke-linejoin="round"/>
<path d="M482.8,1302.3 A229.6,227.4 0 0 1 465.1,1311.5" stroke-width="3.8" fill="none" stroke-linecap="round" stroke-linejoin="round"/>
<path d="M465.1,1311.5 A229.6,227.4 0 0 1 446.8,1319" stroke-width="3.9" fill="none" stroke-linecap="round" stroke-linejoin="round"/>
<path d="M446.8,1319 A229.6,227.4 0 0 1 427.8,1325" stroke-width="4" fill="none" stroke-linecap="round" stroke-linejoin="round"/>
<path d="M427.8,1325 A229.6,227.4 0 0 1 408.4,1329.4" stroke-width="4.1" fill="none" stroke-linecap="round" stroke-linejoin="round"/>
<path d="M408.4,1329.4 A229.6,227.4 0 0 1 388.7,1332" stroke-width="4.2" fill="none" stroke-linecap="round" stroke-linejoin="round"/>
<path d="M388.7,1332 A229.6,227.4 0 0 1 368.9,1333" stroke-width="4.3" fill="none" stroke-linecap="round" stroke-linejoin="round"/>
<path d="M368.9,1333 A229.6,227.4 0 0 1 349,1332.3" stroke-width="4.3" fill="none" stroke-linecap="round" stroke-linejoin="round"/>
<path d="M349,1332.3 A229.6,227.4 0 0 1 329.3,1329.8" stroke-width="4.4" fill="none" stroke-linecap="round" stroke-linejoin="round"/>
<path d="M329.3,1329.8 A229.6,227.4 0 0 1 309.8,1325.7" stroke-width="4.4" fill="none" stroke-linecap="round" stroke-linejoin="round"/>
<path d="M309.8,1325.7 A229.6,227.4 0 0 1 290.8,1319.9" stroke-width="4.5" fill="none" stroke-linecap="round" stroke-linejoin="round"/>
<path d="M290.8,1319.9 A229.6,227.4 0 0 1 272.4,1312.5" stroke-width="4.5" fill="none" stroke-linecap="round" stroke-linejoin="round"/>
<path d="M272.4,1312.5 A229.6,227.4 0 0 1 254.6,1303.6" stroke-width="4.5" fill="none" stroke-linecap="round" stroke-linejoin="round"/>
<path d="M254.6,1303.6 A229.6,227.4 0 0 1 237.8,1293.2" stroke-width="4.6" fill="none" stroke-linecap="round" stroke-linejoin="round"/>
<path d="M237.8,1293.2 A229.6,227.4 0 0 1 221.9,1281.3" stroke-width="4.6" fill="none" stroke-linecap="round" stroke-linejoin="round"/>
<path d="M188.2,1247.5 A229.6,227.4 0 0 1 176.6,1231.9" stroke-width="4.6" fill="none" stroke-linecap="round" stroke-linejoin="round"/>
<path d="M176.6,1231.9 A229.6,227.4 0 0 1 166.5,1215.3" stroke-width="4.6" fill="none" stroke-linecap="round" stroke-linejoin="round"/>
<path d="M166.5,1215.3 A229.6,227.4 0 0 1 157.8,1198" stroke-width="4.6" fill="none" stroke-linecap="round" stroke-linejoin="round"/>
<path d="M157.8,1198 A229.6,227.4 0 0 1 150.7,1180.1" stroke-width="4.6" fill="none" stroke-linecap="round" stroke-linejoin="round"/>
<path d="M150.7,1180.1 A229.6,227.4 0 0 1 145.1,1161.5" stroke-width="4.6" fill="none" stroke-linecap="round" stroke-linejoin="round"/>
<path d="M145.1,1161.5 A229.6,227.4 0 0 1 141.1,1142.6" stroke-width="4.6" fill="none" stroke-linecap="round" stroke-linejoin="round"/>
<path d="M141.1,1142.6 A229.6,227.4 0 0 1 138.7,1123.4" stroke-width="4.7" fill="none" stroke-linecap="round" stroke-linejoin="round"/>
<path d="M138.7,1123.4 A229.6,227.4 0 0 1 138,1104.1" stroke-width="4.7" fill="none" stroke-linecap="round" stroke-linejoin="round"/>
<path d="M138,1104.1 A229.6,227.4 0 0 1 139,1084.8" stroke-width="4.7" fill="none" stroke-linecap="round" stroke-linejoin="round"/>
<path d="M139,1084.8 A229.6,227.4 0 0 1 141.6,1065.7" stroke-width="4.7" fill="none" stroke-linecap="round" stroke-linejoin="round"/>
<path d="M141.6,1065.7 A229.6,227.4 0 0 1 145.8,1046.8" stroke-width="4.8" fill="none" stroke-linecap="round" stroke-linejoin="round"/>
<path d="M145.8,1046.8 A229.6,227.4 0 0 1 151.7,1028.4" stroke-width="4.8" fill="none" stroke-linecap="round" stroke-linejoin="round"/>
<path d="M151.7,1028.4 A229.6,227.4 0 0 1 159.1,1010.5" stroke-width="4.9" fill="none" stroke-linecap="round" stroke-linejoin="round"/>
<path d="M159.1,1010.5 A229.6,227.4 0 0 1 168,993.3" stroke-width="4.9" fill="none" stroke-linecap="round" stroke-linejoin="round"/>
<path d="M168,993.3 A229.6,227.4 0 0 1 178.3,976.9" stroke-width="4.9" fill="none" stroke-linecap="round" stroke-linejoin="round"/>
<path d="M178.3,976.9 A229.6,227.4 0 0 1 190,961.4" stroke-width="5" fill="none" stroke-linecap="round" stroke-linejoin="round"/>
<path d="M190,961.4 A229.6,227.4 0 0 1 203,947" stroke-width="5" fill="none" stroke-linecap="round" stroke-linejoin="round"/>
<path d="M203,947 A229.6,227.4 0 0 1 217.2,933.8" stroke-width="5" fill="none" stroke-linecap="round" stroke-linejoin="round"/>
<path d="M217.2,933.8 A229.6,227.4 0 0 1 232.5,921.7" stroke-width="5" fill="none" stroke-linecap="round" stroke-linejoin="round"/>
<path d="M232.5,921.7 A229.6,227.4 0 0 1 248.8,911" stroke-width="5.1" fill="none" stroke-linecap="round" stroke-linejoin="round"/>
<path d="M248.8,911 A229.6,227.4 0 0 1 265.9,901.7" stroke-width="5.1" fill="none" stroke-linecap="round" stroke-linejoin="round"/>
<path d="M265.9,901.7 A229.6,227.4 0 0 1 283.7,893.9" stroke-width="5.1" fill="none" stroke-linecap="round" stroke-linejoin="round"/>
<path d="M283.7,893.9 A229.6,227.4 0 0 1 302.2,887.6" stroke-width="5.1" fill="none" stroke-linecap="round" stroke-linejoin="round"/>
<path d="M302.2,887.6 A229.6,227.4 0 0 1 321.1,882.9" stroke-width="5" fill="none" stroke-linecap="round" stroke-linejoin="round"/>
<path d="M321.1,882.9 A229.6,227.4 0 0 1 340.4,879.8" stroke-width="5" fill="none" stroke-linecap="round" stroke-linejoin="round"/>
<path d="M340.4,879.8 A229.6,227.4 0 0 1 359.8,878.3" stroke-width="5" fill="none" stroke-linecap="round" stroke-linejoin="round"/>
<path d="M359.8,878.3 A229.6,227.4 0 0 1 379.3,878.5" stroke-width="4.9" fill="none" stroke-linecap="round" stroke-linejoin="round"/>
<path d="M379.3,878.5 A229.6,227.4 0 0 1 398.8,880.3" stroke-width="4.8" fill="none" stroke-linecap="round" stroke-linejoin="round"/>
<path d="M398.8,880.3 A229.6,227.4 0 0 1 418,883.7" stroke-width="4.7" fill="none" stroke-linecap="round" stroke-linejoin="round"/>
<path d="M418,883.7 A229.6,227.4 0 0 1 436.8,888.8" stroke-width="4.7" fill="none" stroke-linecap="round" stroke-linejoin="round"/>
<path d="M436.8,888.8 A229.6,227.4 0 0 1 455.1,895.4" stroke-width="4.5" fill="none" stroke-linecap="round" stroke-linejoin="round"/>
<path d="M455.1,895.4 A229.6,227.4 0 0 1 472.9,903.5" stroke-width="4.4" fill="none" stroke-linecap="round" stroke-linejoin="round"/>
<path d="M472.9,903.5 A229.6,227.4 0 0 1 489.8,913.1" stroke-width="4.3" fill="none" stroke-linecap="round" stroke-linejoin="round"/>
<path d="M489.8,913.1 A229.6,227.4 0 0 1 505.9,924.1" stroke-width="4.2" fill="none" stroke-linecap="round" stroke-linejoin="round"/>
<path d="M505.9,924.1 A229.6,227.4 0 0 1 520.9,936.3" stroke-width="4.1" fill="none" stroke-linecap="round" stroke-linejoin="round"/>
<path d="M526.1,978.4 A203.8,201.7 0 0 1 536.1,991.6" stroke-width="3.5" fill="none" stroke-linecap="round" stroke-linejoin="round"/>
<path d="M536.1,991.6 A203.8,201.7 0 0 1 545,1005.5" stroke-width="3.5" fill="none" stroke-linecap="round" stroke-linejoin="round"/>
<path d="M545,1005.5 A203.8,201.7 0 0 1 552.7,1020.1" stroke-width="3.5" fill="none" stroke-linecap="round" stroke-linejoin="round"/>
<path d="M552.7,1020.1 A203.8,201.7 0 0 1 559.1,1035.3" stroke-width="3.5" fill="none" stroke-linecap="round" stroke-linejoin="round"/>
<path d="M559.1,1035.3 A203.8,201.7 0 0 1 564.3,1050.9" stroke-width="3.5" fill="none" stroke-linecap="round" stroke-linejoin="round"/>
<path d="M564.3,1050.9 A203.8,201.7 0 0 1 568.2,1067" stroke-width="3.5" fill="none" stroke-linecap="round" stroke-linejoin="round"/>
<path d="M568.2,1067 A203.8,201.7 0 0 1 570.7,1083.2" stroke-width="3.5" fill="none" stroke-linecap="round" stroke-linejoin="round"/>
<path d="M570.7,1083.2 A203.8,201.7 0 0 1 571.9,1099.7" stroke-width="3.5" fill="none" stroke-linecap="round" stroke-linejoin="round"/>
<path d="M571.9,1099.7 A203.8,201.7 0 0 1 571.7,1116.1" stroke-width="3.5" fill="none" stroke-linecap="round" stroke-linejoin="round"/>
<path d="M571.7,1116.1 A203.8,201.7 0 0 1 570.2,1132.5" stroke-width="3.5" fill="none" stroke-linecap="round" stroke-linejoin="round"/>
<path d="M567.5,1147.8 A203.8,201.7 0 0 1 563.2,1164.4" stroke-width="3.5" fill="none" stroke-linecap="round" stroke-linejoin="round"/>
<path d="M563.2,1164.4 A203.8,201.7 0 0 1 557.5,1180.7" stroke-width="3.6" fill="none" stroke-linecap="round" stroke-linejoin="round"/>
<path d="M557.5,1180.7 A203.8,201.7 0 0 1 550.3,1196.4" stroke-width="3.6" fill="none" stroke-linecap="round" stroke-linejoin="round"/>
<path d="M550.3,1196.4 A203.8,201.7 0 0 1 541.9,1211.4" stroke-width="3.6" fill="none" stroke-linecap="round" stroke-linejoin="round"/>
<path d="M541.9,1211.4 A203.8,201.7 0 0 1 532.1,1225.7" stroke-width="3.6" fill="none" stroke-linecap="round" stroke-linejoin="round"/>
<path d="M532.1,1225.7 A203.8,201.7 0 0 1 521.2,1239.1" stroke-width="3.6" fill="none" stroke-linecap="round" stroke-linejoin="round"/>
<path d="M521.2,1239.1 A203.8,201.7 0 0 1 509.2,1251.5" stroke-width="3.7" fill="none" stroke-linecap="round" stroke-linejoin="round"/>
<path d="M509.2,1251.5 A203.8,201.7 0 0 1 496.1,1262.9" stroke-width="3.7" fill="none" stroke-linecap="round" stroke-linejoin="round"/>
<path d="M496.1,1262.9 A203.8,201.7 0 0 1 482.1,1273.1" stroke-width="3.7" fill="none" stroke-linecap="round" stroke-linejoin="round"/>
<path d="M482.1,1273.1 A203.8,201.7 0 0 1 467.3,1282.1" stroke-width="3.7" fill="none" stroke-linecap="round" stroke-linejoin="round"/>
<path d="M467.3,1282.1 A203.8,201.7 0 0 1 451.7,1289.8" stroke-width="3.8" fill="none" stroke-linecap="round" stroke-linejoin="round"/>
<path d="M451.7,1289.8 A203.8,201.7 0 0 1 435.6,1296.2" stroke-width="3.8" fill="none" stroke-linecap="round" stroke-linejoin="round"/>
<path d="M435.6,1296.2 A203.8,201.7 0 0 1 418.9,1301.2" stroke-width="3.8" fill="none" stroke-linecap="round" stroke-linejoin="round"/>
<path d="M418.9,1301.2 A203.8,201.7 0 0 1 401.9,1304.7" stroke-width="3.8" fill="none" stroke-linecap="round" stroke-linejoin="round"/>
<path d="M401.9,1304.7 A203.8,201.7 0 0 1 384.7,1306.8" stroke-width="3.9" fill="none" stroke-linecap="round" stroke-linejoin="round"/>
<path d="M384.7,1306.8 A203.8,201.7 0 0 1 367.3,1307.5" stroke-width="3.9" fill="none" stroke-linecap="round" stroke-linejoin="round"/>
<path d="M367.3,1307.5 A203.8,201.7 0 0 1 349.9,1306.7" stroke-width="3.9" fill="none" stroke-linecap="round" stroke-linejoin="round"/>
<path d="M349.9,1306.7 A203.8,201.7 0 0 1 332.7,1304.4" stroke-width="3.9" fill="none" stroke-linecap="round" stroke-linejoin="round"/>
<path d="M332.7,1304.4 A203.8,201.7 0 0 1 315.7,1300.7" stroke-width="4" fill="none" stroke-linecap="round" stroke-linejoin="round"/>
<path d="M315.7,1300.7 A203.8,201.7 0 0 1 299.1,1295.5" stroke-width="4" fill="none" stroke-linecap="round" stroke-linejoin="round"/>
<path d="M299.1,1295.5 A203.8,201.7 0 0 1 283,1289" stroke-width="4" fill="none" stroke-linecap="round" stroke-linejoin="round"/>
<path d="M283,1289 A203.8,201.7 0 0 1 267.6,1281.2" stroke-width="4" fill="none" stroke-linecap="round" stroke-linejoin="round"/>
<path d="M267.6,1281.2 A203.8,201.7 0 0 1 252.8,1272" stroke-width="4.1" fill="none" stroke-linecap="round" stroke-linejoin="round"/>
<path d="M252.8,1272 A203.8,201.7 0 0 1 238.9,1261.7" stroke-width="4.1" fill="none" stroke-linecap="round" stroke-linejoin="round"/>
<path d="M208.1,1230.6 A203.8,201.7 0 0 1 197.8,1216.3" stroke-width="4.1" fill="none" stroke-linecap="round" stroke-linejoin="round"/>
<path d="M197.8,1216.3 A203.8,201.7 0 0 1 188.7,1201.2" stroke-width="4.1" fill="none" stroke-linecap="round" stroke-linejoin="round"/>
<path d="M188.7,1201.2 A203.8,201.7 0 0 1 181,1185.4" stroke-width="4.1" fill="none" stroke-linecap="round" stroke-linejoin="round"/>
<path d="M181,1185.4 A203.8,201.7 0 0 1 174.8,1169" stroke-width="4.1" fill="none" stroke-linecap="round" stroke-linejoin="round"/>
<path d="M174.8,1169 A203.8,201.7 0 0 1 169.9,1152.1" stroke-width="4.1" fill="none" stroke-linecap="round" stroke-linejoin="round"/>
<path d="M169.9,1152.1 A203.8,201.7 0 0 1 166.6,1134.9" stroke-width="4.1" fill="none" stroke-linecap="round" stroke-linejoin="round"/>
<path d="M166.6,1134.9 A203.8,201.7 0 0 1 164.8,1117.5" stroke-width="4.1" fill="none" stroke-linecap="round" stroke-linejoin="round"/>
<path d="M164.8,1117.5 A203.8,201.7 0 0 1 164.6,1099.9" stroke-width="4.1" fill="none" stroke-linecap="round" stroke-linejoin="round"/>
<path d="M164.6,1099.9 A203.8,201.7 0 0 1 165.9,1082.4" stroke-width="4.1" fill="none" stroke-linecap="round" stroke-linejoin="round"/>
<path d="M165.9,1082.4 A203.8,201.7 0 0 1 168.7,1065.1" stroke-width="4.1" fill="none" stroke-linecap="round" stroke-linejoin="round"/>
<path d="M168.7,1065.1 A203.8,201.7 0 0 1 173,1048.1" stroke-width="4.1" fill="none" stroke-linecap="round" stroke-linejoin="round"/>
<path d="M173,1048.1 A203.8,201.7 0 0 1 178.8,1031.5" stroke-width="4" fill="none" stroke-linecap="round" stroke-linejoin="round"/>
<path d="M178.8,1031.5 A203.8,201.7 0 0 1 186.1,1015.5" stroke-width="4" fill="none" stroke-linecap="round" stroke-linejoin="round"/>
<path d="M186.1,1015.5 A203.8,201.7 0 0 1 194.7,1000.2" stroke-width="4" fill="none" stroke-linecap="round" stroke-linejoin="round"/>
<path d="M194.7,1000.2 A203.8,201.7 0 0 1 204.6,985.7" stroke-width="3.9" fill="none" stroke-linecap="round" stroke-linejoin="round"/>
<path d="M204.6,985.7 A203.8,201.7 0 0 1 215.8,972.1" stroke-width="3.9" fill="none" stroke-linecap="round" stroke-linejoin="round"/>
<path d="M215.8,972.1 A203.8,201.7 0 0 1 228.1,959.5" stroke-width="3.9" fill="none" stroke-linecap="round" stroke-linejoin="round"/>
<path d="M228.1,959.5 A203.8,201.7 0 0 1 241.5,948" stroke-width="3.9" fill="none" stroke-linecap="round" stroke-linejoin="round"/>
<path d="M241.5,948 A203.8,201.7 0 0 1 255.9,937.7" stroke-width="3.8" fill="none" stroke-linecap="round" stroke-linejoin="round"/>
<path d="M255.9,937.7 A203.8,201.7 0 0 1 271,928.6" stroke-width="3.8" fill="none" stroke-linecap="round" stroke-linejoin="round"/>
<path d="M271,928.6 A203.8,201.7 0 0 1 287,920.9" stroke-width="3.8" fill="none" stroke-linecap="round" stroke-linejoin="round"/>
<path d="M287,920.9 A203.8,201.7 0 0 1 303.5,914.6" stroke-width="3.7" fill="none" stroke-linecap="round" stroke-linejoin="round"/>
<path d="M303.5,914.6 A203.8,201.7 0 0 1 320.6,909.8" stroke-width="3.7" fill="none" stroke-linecap="round" stroke-linejoin="round"/>
<path d="M320.6,909.8 A203.8,201.7 0 0 1 337.9,906.4" stroke-width="3.7" fill="none" stroke-linecap="round" stroke-linejoin="round"/>
<path d="M337.9,906.4 A203.8,201.7 0 0 1 355.6,904.6" stroke-width="3.6" fill="none" stroke-linecap="round" stroke-linejoin="round"/>
<path d="M355.6,904.6 A203.8,201.7 0 0 1 373.3,904.3" stroke-width="3.6" fill="none" stroke-linecap="round" stroke-linejoin="round"/>
<path d="M373.3,904.3 A203.8,201.7 0 0 1 391,905.5" stroke-width="3.6" fill="none" stroke-linecap="round" stroke-linejoin="round"/>
<path d="M391,905.5 A203.8,201.7 0 0 1 408.5,908.2" stroke-width="3.6" fill="none" stroke-linecap="round" stroke-linejoin="round"/>
<path d="M408.5,908.2 A203.8,201.7 0 0 1 425.7,912.4" stroke-width="3.5" fill="none" stroke-linecap="round" stroke-linejoin="round"/>
<path d="M425.7,912.4 A203.8,201.7 0 0 1 442.5,918" stroke-width="3.5" fill="none" stroke-linecap="round" stroke-linejoin="round"/>
<path d="M442.5,918 A203.8,201.7 0 0 1 458.7,925.1" stroke-width="3.5" fill="none" stroke-linecap="round" stroke-linejoin="round"/>
<path d="M458.7,925.1 A203.8,201.7 0 0 1 474.2,933.6" stroke-width="3.5" fill="none" stroke-linecap="round" stroke-linejoin="round"/>
<path d="M474.2,933.6 A203.8,201.7 0 0 1 488.9,943.4" stroke-width="3.5" fill="none" stroke-linecap="round" stroke-linejoin="round"/>
<path d="M488.9,943.4 A203.8,201.7 0 0 1 502.7,954.4" stroke-width="3.5" fill="none" stroke-linecap="round" stroke-linejoin="round"/>
<path d="M570.2,1132.5 L564.2,1133.6" stroke-width="2.4" fill="none" stroke-linecap="round" stroke-linejoin="round"/>
<path d="M567.5,1147.8 L561.1,1145.9" stroke-width="2.4" fill="none" stroke-linecap="round" stroke-linejoin="round"/>
<path d="M402.9,927.8 A180,180 0 0 1 484.6,967.9" stroke-width="3.2" fill="none" stroke-linecap="round" stroke-linejoin="round"/>
<path d="M507.8,988.9 A182,182 0 0 1 539.7,1046.8" stroke-width="3.2" fill="none" stroke-linecap="round" stroke-linejoin="round"/>
<path d="M484.6,967.9 L536.2,922.3 L519.7,911 L577.2,903.8 L566,957.2 L557.7,943.8 L507.8,988.9" stroke-width="2.8" fill="none" stroke-linecap="round" stroke-linejoin="round"/>
<path d="M389.6,1106.6 L822,1106.2" stroke-width="5.4" fill="none" stroke-linecap="round" stroke-linejoin="round"/>
<path d="M833.3,1105.7 L795.3,1113.7 L806.7,1105.7 L795.3,1097.7 Z" stroke-width="1" fill="#000" stroke-linejoin="round"/>
<path d="M456,1106.6 A11,11 0 0 1 434,1106.6" stroke-width="2.4" fill="none" stroke-linecap="round" stroke-linejoin="round"/>
<path d="M695.4,1106.4 A9.5,9.5 0 0 1 714.4,1106.4" stroke-width="2.4" fill="none" stroke-linecap="round" stroke-linejoin="round"/>
<path d="M355,1090 A20.5,20.5 0 0 1 383,1120" stroke-width="2.8" fill="none" stroke-linecap="round" stroke-linejoin="round"/>
<path d="M355,1090 L187.5,1254.5" stroke-width="4" fill="none" stroke-linecap="round" stroke-linejoin="round"/>
<path d="M148,1288.2 L77.3,1356.2" stroke-width="4" fill="none" stroke-linecap="round" stroke-linejoin="round"/>
<path d="M383,1120 L218.7,1279.2" stroke-width="4" fill="none" stroke-linecap="round" stroke-linejoin="round"/>
<path d="M177.7,1317.8 L106.5,1380.2" stroke-width="4" fill="none" stroke-linecap="round" stroke-linejoin="round"/>
<circle cx="84.9" cy="1377.7" r="20.5" stroke-width="3" fill="#fff"/>
<path d="M167,1260.3 L222,1249.6 L211.3,1305.5 L199.8,1286.6" stroke-width="2.8" fill="none" stroke-linecap="round" stroke-linejoin="round"/>
<path d="M167,1260.3 L186.7,1268.5 L159.6,1297.2 L149.7,1289 L170.3,1266.8" stroke-width="2.8" fill="none" stroke-linecap="round" stroke-linejoin="round"/>
<path d="M199.8,1286.6 L171.1,1313.7 L176.8,1317 L201.5,1294" stroke-width="2.8" fill="none" stroke-linecap="round" stroke-linejoin="round"/>
<path d="M73.5,1271.2 Q113.2,1260.3 148,1288.2" stroke-width="4" fill="none" stroke-linecap="round" stroke-linejoin="round"/>
<path d="M176.8,1317 Q188.6,1346.3 194,1390.4" stroke-width="4" fill="none" stroke-linecap="round" stroke-linejoin="round"/>
<path d="M25.7,1345 A66,66 0 1 1 111.9,1435.8" stroke-width="5.2" fill="none" stroke-linecap="round" stroke-linejoin="round"/>
<path d="M17.7,1361.2 L25.8,1335.5 L28.2,1344.8 L37.6,1343.1 Z" stroke-width="1" fill="#000" stroke-linejoin="round"/>
<circle cx="257.2" cy="938.7" r="9.9" stroke-width="3" fill="#fff"/>
<path d="M252,930 L217.1,869.9" stroke-width="2.6" fill="none" stroke-linecap="round" stroke-linejoin="round"/>
<path d="M217.1,869.9 Q183.2,891.8 170,908" stroke-width="3.6" fill="none" stroke-linecap="round" stroke-linejoin="round"/>
<path d="M155.5,921.2 L168.1,899.7 L168.3,908.6 L177.2,909 Z" stroke-width="1" fill="#000" stroke-linejoin="round"/>
<path d="M443,1117.5 Q448,1152.2 405,1170" stroke-width="2.8" fill="none" stroke-linecap="round" stroke-linejoin="round"/>
<path d="M385.5,1180.8 L403.5,1163.8 L401.2,1172 L409.4,1174.2 Z" stroke-width="1" fill="#000" stroke-linejoin="round"/>
<path d="M705.9,1097 L700.5,1030" stroke-width="2.8" fill="none" stroke-linecap="round" stroke-linejoin="round"/>
<path d="M698.7,1007.7 L707,1035.1 L700.5,1028.6 L695.1,1036.1 Z" stroke-width="1" fill="#000" stroke-linejoin="round"/>
<circle cx="553" cy="1189.3" r="8.9" stroke-width="3" fill="#fff"/>
<path d="M562,1192.5 L629.5,1221.1 L589,1284" stroke-width="5" fill="none" stroke-linecap="round" stroke-linejoin="round"/>
<path d="M577.5,1301.8 L586.6,1274.4 L588.8,1284.1 L598.4,1281.9 Z" stroke-width="1" fill="#000" stroke-linejoin="round"/>
<circle cx="541.6" cy="1135.6" r="19.5" stroke-width="2.8" fill="#fff"/>
<path d="M534,1135.6 L549,1135.6" stroke-width="2.6" fill="none" stroke-linecap="round" stroke-linejoin="round"/>
<path d="M541.6,1128 L541.6,1143" stroke-width="2.6" fill="none" stroke-linecap="round" stroke-linejoin="round"/>
<path d="M517,1077 L535.5,1108.9" stroke-width="2.4" fill="none" stroke-linecap="round" stroke-linejoin="round"/>
<path d="M443,1163.3 Q462.6,1164.5 477.9,1181.8" stroke-width="2.8" fill="none" stroke-linecap="round" stroke-linejoin="round"/>
<path d="M477.9,1181.8 L506.7,1162.3 L496.4,1153 L533.4,1144.9 L526.2,1180.8 L518,1169.5 L487.2,1191.1" stroke-width="2.8" fill="none" stroke-linecap="round" stroke-linejoin="round"/>
<path d="M487.2,1191.1 Q495.4,1207.5 499.5,1232.2" stroke-width="2.8" fill="none" stroke-linecap="round" stroke-linejoin="round"/>
<path transform="matrix(38.000 0 0 39.100 123.6 833.9)" d="M0.40,0.83 C0.40,0.70 0.05,0.70 0.05,0.45 C0.05,0.20 0.27,0.07 0.52,0.07 C0.78,0.07 0.95,0.22 0.95,0.42 C0.95,0.63 0.64,0.68 0.62,0.83" fill="none" stroke-width="5.5" vector-effect="non-scaling-stroke" stroke-linecap="butt"/>
<path d="M124.4,866.4 L141.1,865.2 L140.7,873 L124.7,873 Z" stroke="none" fill="#000"/>
<path d="M144.9,865.2 L160.5,866 L160.5,873 L144.9,873 Z" stroke="none" fill="#000"/>
<path d="M543.3,822.6 L543.3,878" stroke-width="2.8" fill="none" stroke-linecap="round" stroke-linejoin="round"/>
<path d="M625.5,821.6 L625.5,879" stroke-width="2.8" fill="none" stroke-linecap="round" stroke-linejoin="round"/>
<path d="M 554.5,865.9 L 560.7,834.8 L 567.7,834.8 C 571.1,834.8 571.5,838.5 570.6,843.2 C 569.6,848.2 567.5,851.9 564.2,851.9 L 557.3,851.9" stroke-width="3.8" fill="none" stroke-linecap="round" stroke-linejoin="round"/>
<path d="M 582.7,858 C 584.9,855.5 586.7,855.1 588.4,855.1 C 591.9,855.1 593.3,859.3 592.2,864.7 C 591.1,870.5 588,874.3 584.6,874.3 C 582.3,874.3 580.5,873.3 579.7,870.5 M 584.8,864.7 L 592.2,864.7" stroke-width="3.4" fill="none" stroke-linecap="round" stroke-linejoin="round"/>
<path d="M 594.6,874.3 L 598.4,855.1 L 603.6,867 L 613.6,855.1 L 609.8,874.3" stroke-width="3.4" fill="none" stroke-linecap="round" stroke-linejoin="round"/>
<path transform="matrix(34.900 0 0 34.900 624.5 1020.9)" d="M0.40,0.83 C0.40,0.70 0.05,0.70 0.05,0.45 C0.05,0.20 0.27,0.07 0.52,0.07 C0.78,0.07 0.95,0.22 0.95,0.42 C0.95,0.63 0.64,0.68 0.62,0.83" fill="none" stroke-width="4.9" vector-effect="non-scaling-stroke" stroke-linecap="butt"/>
<path d="M625.2,1049.9 L640.6,1048.8 L640.2,1055.8 L625.5,1055.8 Z" stroke="none" fill="#000"/>
<path d="M644,1048.8 L658.4,1049.5 L658.4,1055.8 L644,1055.8 Z" stroke="none" fill="#000"/>
<path d="M666.1,1054 L675.4,1045.4 L668.9,1066.3" stroke-width="3.4" fill="none" stroke-linecap="round" stroke-linejoin="round"/>
<path d="M 796.1,1052.1 L 802.1,1021.9 L 808.6,1021.9 C 812.1,1021.9 812.7,1024.9 811.9,1028.8 C 811.1,1033.1 809,1035.8 805.8,1035.8 L 799.4,1035.8 M 805.8,1035.8 C 809.7,1035.8 810.4,1039.4 809.5,1043.9 C 808.5,1049.1 806.1,1052.1 802.6,1052.1 L 796.1,1052.1" stroke-width="3.8" fill="none" stroke-linecap="round" stroke-linejoin="round"/>
<circle cx="808.6" cy="1007.7" r="3.6" stroke="none" fill="#000"/>
<path d="M 819.5,1061.6 L 822.6,1046.3 M 821.7,1050.9 C 823.5,1047.5 826.6,1046.3 829.3,1046.3 C 832.4,1046.3 833.5,1047.8 832.9,1050.6 L 830.7,1061.6 M 832.9,1050.6 C 834.7,1047.5 837.8,1046.3 840.5,1046.3 C 843.6,1046.3 844.7,1047.8 844.1,1050.6 L 841.9,1061.6" stroke-width="3.2" fill="none" stroke-linecap="round" stroke-linejoin="round"/>
<path d="M 494.4,1038.5 L 489.7,1059.7" stroke-width="3.9" fill="none" stroke-linecap="round" stroke-linejoin="round"/>
<circle cx="496.9" cy="1028.6" r="2.9" stroke="none" fill="#000"/>
<path d="M 508.4,1056.6 C 509.8,1052.8 513,1051 516.1,1051 C 520,1051 521.5,1054.2 520.7,1058.2 C 519.8,1062.6 514.9,1066.1 510,1069.5 L 504.3,1073.3 L 518.4,1073.3" stroke-width="3.5" fill="none" stroke-linecap="round" stroke-linejoin="round"/>
<path d="M 544,1051 L 539.5,1073.3 M 542.2,1059.9 C 542.6,1053.7 540,1051 536,1051 C 531.2,1051 526.9,1056.6 525.6,1063.3 C 524.4,1069.3 526.5,1073.3 530.8,1073.3 C 535.1,1073.3 538.9,1069.9 541.3,1064.4" stroke-width="3.5" fill="none" stroke-linecap="round" stroke-linejoin="round"/>
<path d="M540.3,1322 L540.3,1370.8" stroke-width="2.8" fill="none" stroke-linecap="round" stroke-linejoin="round"/>
<path d="M590.2,1318.8 L590.2,1370.8" stroke-width="2.8" fill="none" stroke-linecap="round" stroke-linejoin="round"/>
<path d="M 550.6,1356.2 L 555.8,1330.1 L 563,1346.3 L 576.7,1330.1 L 571.5,1356.2" stroke-width="3.6" fill="none" stroke-linecap="round" stroke-linejoin="round"/>
<path d="M 424.3,1245.9 L 429.5,1219.8 L 435.7,1219.8 C 438.8,1219.8 439.2,1222.9 438.4,1226.9 C 437.5,1231 435.7,1234.2 432.8,1234.2 L 426.7,1234.2" stroke-width="3.6" fill="none" stroke-linecap="round" stroke-linejoin="round"/>
<path d="M 448.2,1240.7 C 450.2,1238.1 451.7,1237.7 453.2,1237.7 C 456.2,1237.7 457.3,1242.1 456.2,1247.7 C 455,1253.6 452.2,1257.6 449.2,1257.6 C 447.3,1257.6 445.7,1256.6 445.1,1253.6 M 449.7,1247.7 L 456.2,1247.7" stroke-width="3.4" fill="none" stroke-linecap="round" stroke-linejoin="round"/>
<path d="M 461.3,1242.7 C 462.5,1239.3 464.8,1237.7 467,1237.7 C 469.7,1237.7 470.6,1240.5 469.9,1244.1 C 469.1,1248 465.5,1251.2 462,1254.2 L 457.9,1257.6 L 467.7,1257.6" stroke-width="3.4" fill="none" stroke-linecap="round" stroke-linejoin="round"/>
<path d="M308,1209 L308,1267.4" stroke-width="2.8" fill="none" stroke-linecap="round" stroke-linejoin="round"/>
<path d="M379,1207.9 L379,1265" stroke-width="2.8" fill="none" stroke-linecap="round" stroke-linejoin="round"/>
<path transform="matrix(30.400 0 0 29.200 318.1 1221.8)" d="M0.40,0.83 C0.40,0.70 0.05,0.70 0.05,0.45 C0.05,0.20 0.27,0.07 0.52,0.07 C0.78,0.07 0.95,0.22 0.95,0.42 C0.95,0.63 0.64,0.68 0.62,0.83" fill="none" stroke-width="4.1" vector-effect="non-scaling-stroke" stroke-linecap="butt"/>
<path d="M318.7,1246 L332.1,1245.2 L331.8,1251 L319,1251 Z" stroke="none" fill="#000"/>
<path d="M335.1,1245.2 L347.6,1245.7 L347.6,1251 L335.1,1251 Z" stroke="none" fill="#000"/>
<path d="M 365.5,1243.3 C 364.8,1241.8 363.8,1241.3 362.4,1241.3 C 360.3,1241.3 359,1243.3 358.9,1245.8 C 358.7,1248.9 360.4,1249.4 361.8,1250 C 363.6,1250.7 365,1251.7 364.8,1254.4 C 364.6,1257 363.1,1258.1 361.3,1258.1 C 359.9,1258.1 358.7,1257.3 358,1255.8" stroke-width="3.3" fill="none" stroke-linecap="round" stroke-linejoin="round"/>
<path d="M16.5,1192.7 L16.5,1256" stroke-width="2.8" fill="none" stroke-linecap="round" stroke-linejoin="round"/>
<path d="M128,1197.7 L128,1253.5" stroke-width="2.8" fill="none" stroke-linecap="round" stroke-linejoin="round"/>
<path d="M 32.3,1235.1 L 38.9,1202.2 L 47.9,1202.2 C 52.4,1202.2 53.1,1206.2 52.1,1211.1 C 51,1216.4 48.5,1220.3 44.3,1220.3 L 35.3,1220.3" stroke-width="3.9" fill="none" stroke-linecap="round" stroke-linejoin="round"/>
<path d="M 48.6,1245.5 L 53,1223.5 L 60.2,1237.1 L 72.8,1223.5 L 68.4,1245.5" stroke-width="3.5" fill="none" stroke-linecap="round" stroke-linejoin="round"/>
<path d="M 76.7,1235.6 L 91.4,1234.5 C 93.2,1227.9 90.9,1223.5 86.2,1223.5 C 81.4,1223.5 77,1230.1 75.7,1236.7 C 74.6,1242.2 77.1,1245.5 81,1245.5 C 85,1245.5 87.7,1243.7 89.8,1241.1" stroke-width="3.5" fill="none" stroke-linecap="round" stroke-linejoin="round"/>
<path d="M 98.9,1226.8 C 102.3,1223.5 107.1,1223.5 106.8,1230.1 L 105.8,1238.9 C 105.5,1245.5 110.3,1245.5 113.6,1242.2 M 116.8,1226.2 C 113.6,1224.6 110.3,1227.9 106.3,1234.5 C 102.3,1241.1 98.8,1245.5 95.7,1243.3" stroke-width="3.5" fill="none" stroke-linecap="round" stroke-linejoin="round"/>
<path d="M 207.2,1425.1 L 213.2,1394.9 L 220.4,1413.6 L 235.1,1394.9 L 229.1,1425.1" stroke-width="3.8" fill="none" stroke-linecap="round" stroke-linejoin="round"/>
<path d="M 241.2,1435.6 L 243.5,1418.7 L 250.2,1418.7 C 253.8,1418.7 254.8,1420.4 254.5,1422.6 C 254.2,1424.9 252.4,1426.5 249.1,1426.5 L 242.4,1426.5 M 249.1,1426.5 C 253.1,1426.5 254.3,1428.5 253.9,1431.1 C 253.5,1433.9 251.4,1435.6 247.8,1435.6 L 241.2,1435.6" stroke-width="3.3" fill="none" stroke-linecap="round" stroke-linejoin="round"/>
<path d="M 429.8,1398.1 C 422.8,1398.5 415.3,1405.4 410.5,1421.5 C 407.7,1431.7 409.6,1437.7 413.4,1437.7 C 418,1437.7 422.3,1431.7 423.7,1424.8 C 425.1,1417.5 423,1412.6 419.2,1412.6 C 416.1,1412.6 412.8,1415.5 410.5,1421.5" stroke-width="4.2" fill="none" stroke-linecap="round" stroke-linejoin="round"/>
<path d="M 439.3,1396.3 C 454.3,1409.5 455.2,1436 437.5,1449.2" stroke-width="4.6" fill="none" stroke-linecap="round" stroke-linejoin="round"/>
<circle cx="14.2" cy="1315.8" r="3.6" stroke="none" fill="#000"/>
<path d="M1463,152 A229.8,230.9 0 0 1 1475.4,167.5" stroke-width="3.3" fill="none" stroke-linecap="round" stroke-linejoin="round"/>
<path d="M1475.4,167.5 A229.8,230.9 0 0 1 1486.4,184" stroke-width="3.2" fill="none" stroke-linecap="round" stroke-linejoin="round"/>
<path d="M1486.4,184 A229.8,230.9 0 0 1 1495.9,201.4" stroke-width="3.2" fill="none" stroke-linecap="round" stroke-linejoin="round"/>
<path d="M1495.9,201.4 A229.8,230.9 0 0 1 1503.9,219.6" stroke-width="3.2" fill="none" stroke-linecap="round" stroke-linejoin="round"/>
<path d="M1503.9,219.6 A229.8,230.9 0 0 1 1510.4,238.4" stroke-width="3.1" fill="none" stroke-linecap="round" stroke-linejoin="round"/>
<path d="M1510.4,238.4 A229.8,230.9 0 0 1 1515.2,257.7" stroke-width="3.1" fill="none" stroke-linecap="round" stroke-linejoin="round"/>
<path d="M1515.2,257.7 A229.8,230.9 0 0 1 1518.3,277.3" stroke-width="3.1" fill="none" stroke-linecap="round" stroke-linejoin="round"/>
<path d="M1518.3,277.3 A229.8,230.9 0 0 1 1519.8,297.1" stroke-width="3.2" fill="none" stroke-linecap="round" stroke-linejoin="round"/>
<path d="M1519.8,297.1 A229.8,230.9 0 0 1 1519.5,317" stroke-width="3.2" fill="none" stroke-linecap="round" stroke-linejoin="round"/>
<path d="M1519.5,317 A229.8,230.9 0 0 1 1517.6,336.7" stroke-width="3.3" fill="none" stroke-linecap="round" stroke-linejoin="round"/>
<path d="M1517.6,336.7 A229.8,230.9 0 0 1 1514,356.3" stroke-width="3.3" fill="none" stroke-linecap="round" stroke-linejoin="round"/>
<path d="M1514,356.3 A229.8,230.9 0 0 1 1508.7,375.4" stroke-width="3.4" fill="none" stroke-linecap="round" stroke-linejoin="round"/>
<path d="M1508.7,375.4 A229.8,230.9 0 0 1 1501.8,394.1" stroke-width="3.5" fill="none" stroke-linecap="round" stroke-linejoin="round"/>
<path d="M1501.8,394.1 A229.8,230.9 0 0 1 1493.3,412" stroke-width="3.6" fill="none" stroke-linecap="round" stroke-linejoin="round"/>
<path d="M1493.3,412 A229.8,230.9 0 0 1 1483.3,429.2" stroke-width="3.7" fill="none" stroke-linecap="round" stroke-linejoin="round"/>
<path d="M1483.3,429.2 A229.8,230.9 0 0 1 1471.9,445.4" stroke-width="3.8" fill="none" stroke-linecap="round" stroke-linejoin="round"/>
<path d="M1471.9,445.4 A229.8,230.9 0 0 1 1459.2,460.6" stroke-width="4" fill="none" stroke-linecap="round" stroke-linejoin="round"/>
<path d="M1459.2,460.6 A229.8,230.9 0 0 1 1445.2,474.6" stroke-width="4.1" fill="none" stroke-linecap="round" stroke-linejoin="round"/>
<path d="M1445.2,474.6 A229.8,230.9 0 0 1 1430,487.4" stroke-width="4.2" fill="none" stroke-linecap="round" stroke-linejoin="round"/>
<path d="M1430,487.4 A229.8,230.9 0 0 1 1413.8,498.8" stroke-width="4.3" fill="none" stroke-linecap="round" stroke-linejoin="round"/>
<path d="M1413.8,498.8 A229.8,230.9 0 0 1 1396.7,508.7" stroke-width="4.4" fill="none" stroke-linecap="round" stroke-linejoin="round"/>
<path d="M1396.7,508.7 A229.8,230.9 0 0 1 1378.8,517.2" stroke-width="4.5" fill="none" stroke-linecap="round" stroke-linejoin="round"/>
<path d="M1378.8,517.2 A229.8,230.9 0 0 1 1360.3,524.1" stroke-width="4.5" fill="none" stroke-linecap="round" stroke-linejoin="round"/>
<path d="M1360.3,524.1 A229.8,230.9 0 0 1 1341.2,529.3" stroke-width="4.6" fill="none" stroke-linecap="round" stroke-linejoin="round"/>
<path d="M1341.2,529.3 A229.8,230.9 0 0 1 1321.7,532.9" stroke-width="4.6" fill="none" stroke-linecap="round" stroke-linejoin="round"/>
<path d="M1321.7,532.9 A229.8,230.9 0 0 1 1302.1,534.8" stroke-width="4.6" fill="none" stroke-linecap="round" stroke-linejoin="round"/>
<path d="M1302.1,534.8 A229.8,230.9 0 0 1 1282.3,535" stroke-width="4.6" fill="none" stroke-linecap="round" stroke-linejoin="round"/>
<path d="M1282.3,535 A229.8,230.9 0 0 1 1262.6,533.4" stroke-width="4.6" fill="none" stroke-linecap="round" stroke-linejoin="round"/>
<path d="M1262.6,533.4 A229.8,230.9 0 0 1 1243.1,530.2" stroke-width="4.5" fill="none" stroke-linecap="round" stroke-linejoin="round"/>
<path d="M1243.1,530.2 A229.8,230.9 0 0 1 1223.9,525.3" stroke-width="4.4" fill="none" stroke-linecap="round" stroke-linejoin="round"/>
<path d="M1223.9,525.3 A229.8,230.9 0 0 1 1205.2,518.8" stroke-width="4.3" fill="none" stroke-linecap="round" stroke-linejoin="round"/>
<path d="M1205.2,518.8 A229.8,230.9 0 0 1 1187.2,510.6" stroke-width="4.2" fill="none" stroke-linecap="round" stroke-linejoin="round"/>
<path d="M1187.2,510.6 A229.8,230.9 0 0 1 1169.9,501" stroke-width="4.1" fill="none" stroke-linecap="round" stroke-linejoin="round"/>
<path d="M1169.9,501 A229.8,230.9 0 0 1 1153.5,489.9" stroke-width="4" fill="none" stroke-linecap="round" stroke-linejoin="round"/>
<path d="M1153.5,489.9 A229.8,230.9 0 0 1 1138.1,477.4" stroke-width="3.8" fill="none" stroke-linecap="round" stroke-linejoin="round"/>
<path d="M1107.5,444.4 A229.8,230.9 0 0 1 1096.2,428.1" stroke-width="3.3" fill="none" stroke-linecap="round" stroke-linejoin="round"/>
<path d="M1096.2,428.1 A229.8,230.9 0 0 1 1086.3,410.8" stroke-width="3.2" fill="none" stroke-linecap="round" stroke-linejoin="round"/>
<path d="M1086.3,410.8 A229.8,230.9 0 0 1 1077.9,392.7" stroke-width="3.1" fill="none" stroke-linecap="round" stroke-linejoin="round"/>
<path d="M1077.9,392.7 A229.8,230.9 0 0 1 1071,373.9" stroke-width="2.9" fill="none" stroke-linecap="round" stroke-linejoin="round"/>
<path d="M1071,373.9 A229.8,230.9 0 0 1 1065.9,354.7" stroke-width="2.8" fill="none" stroke-linecap="round" stroke-linejoin="round"/>
<path d="M1065.9,354.7 A229.8,230.9 0 0 1 1062.4,335" stroke-width="2.7" fill="none" stroke-linecap="round" stroke-linejoin="round"/>
<path d="M1062.4,335 A229.8,230.9 0 0 1 1060.6,315.1" stroke-width="2.7" fill="none" stroke-linecap="round" stroke-linejoin="round"/>
<path d="M1060.6,315.1 A229.8,230.9 0 0 1 1060.5,295.2" stroke-width="2.6" fill="none" stroke-linecap="round" stroke-linejoin="round"/>
<path d="M1060.5,295.2 A229.8,230.9 0 0 1 1062.1,275.3" stroke-width="2.6" fill="none" stroke-linecap="round" stroke-linejoin="round"/>
<path d="M1062.1,275.3 A229.8,230.9 0 0 1 1065.4,255.6" stroke-width="2.6" fill="none" stroke-linecap="round" stroke-linejoin="round"/>
<path d="M1065.4,255.6 A229.8,230.9 0 0 1 1070.4,236.3" stroke-width="2.6" fill="none" stroke-linecap="round" stroke-linejoin="round"/>
<path d="M1070.4,236.3 A229.8,230.9 0 0 1 1077.1,217.5" stroke-width="2.6" fill="none" stroke-linecap="round" stroke-linejoin="round"/>
<path d="M1077.1,217.5 A229.8,230.9 0 0 1 1085.3,199.3" stroke-width="2.6" fill="none" stroke-linecap="round" stroke-linejoin="round"/>
<path d="M1085.3,199.3 A229.8,230.9 0 0 1 1095.1,182" stroke-width="2.7" fill="none" stroke-linecap="round" stroke-linejoin="round"/>
<path d="M1095.1,182 A229.8,230.9 0 0 1 1106.3,165.5" stroke-width="2.8" fill="none" stroke-linecap="round" stroke-linejoin="round"/>
<path d="M1106.3,165.5 A229.8,230.9 0 0 1 1118.9,150.1" stroke-width="2.8" fill="none" stroke-linecap="round" stroke-linejoin="round"/>
<path d="M1118.9,150.1 A229.8,230.9 0 0 1 1132.8,135.8" stroke-width="2.9" fill="none" stroke-linecap="round" stroke-linejoin="round"/>
<path d="M1132.8,135.8 A229.8,230.9 0 0 1 1147.8,122.8" stroke-width="3" fill="none" stroke-linecap="round" stroke-linejoin="round"/>
<path d="M1147.8,122.8 A229.8,230.9 0 0 1 1164,111.1" stroke-width="3.1" fill="none" stroke-linecap="round" stroke-linejoin="round"/>
<path d="M1164,111.1 A229.8,230.9 0 0 1 1181,100.9" stroke-width="3.2" fill="none" stroke-linecap="round" stroke-linejoin="round"/>
<path d="M1181,100.9 A229.8,230.9 0 0 1 1198.9,92.2" stroke-width="3.3" fill="none" stroke-linecap="round" stroke-linejoin="round"/>
<path d="M1198.9,92.2 A229.8,230.9 0 0 1 1217.4,85.1" stroke-width="3.4" fill="none" stroke-linecap="round" stroke-linejoin="round"/>
<path d="M1217.4,85.1 A229.8,230.9 0 0 1 1236.5,79.6" stroke-width="3.4" fill="none" stroke-linecap="round" stroke-linejoin="round"/>
<path d="M1236.5,79.6 A229.8,230.9 0 0 1 1256,75.8" stroke-width="3.5" fill="none" stroke-linecap="round" stroke-linejoin="round"/>
<path d="M1256,75.8 A229.8,230.9 0 0 1 1275.8,73.6" stroke-width="3.6" fill="none" stroke-linecap="round" stroke-linejoin="round"/>
<path d="M1275.8,73.6 A229.8,230.9 0 0 1 1295.6,73.3" stroke-width="3.6" fill="none" stroke-linecap="round" stroke-linejoin="round"/>
<path d="M1295.6,73.3 A229.8,230.9 0 0 1 1315.4,74.6" stroke-width="3.6" fill="none" stroke-linecap="round" stroke-linejoin="round"/>
<path d="M1315.4,74.6 A229.8,230.9 0 0 1 1335.1,77.7" stroke-width="3.6" fill="none" stroke-linecap="round" stroke-linejoin="round"/>
<path d="M1335.1,77.7 A229.8,230.9 0 0 1 1354.3,82.4" stroke-width="3.6" fill="none" stroke-linecap="round" stroke-linejoin="round"/>
<path d="M1354.3,82.4 A229.8,230.9 0 0 1 1373.2,88.8" stroke-width="3.6" fill="none" stroke-linecap="round" stroke-linejoin="round"/>
<path d="M1373.2,88.8 A229.8,230.9 0 0 1 1391.3,96.8" stroke-width="3.6" fill="none" stroke-linecap="round" stroke-linejoin="round"/>
<path d="M1391.3,96.8 A229.8,230.9 0 0 1 1408.8,106.4" stroke-width="3.5" fill="none" stroke-linecap="round" stroke-linejoin="round"/>
<path d="M1408.8,106.4 A229.8,230.9 0 0 1 1425.3,117.4" stroke-width="3.5" fill="none" stroke-linecap="round" stroke-linejoin="round"/>
<path d="M1425.3,117.4 A229.8,230.9 0 0 1 1440.9,129.8" stroke-width="3.4" fill="none" stroke-linecap="round" stroke-linejoin="round"/>
<path d="M1442.5,167.7 A204.5,204.9 0 0 1 1453.1,180.5" stroke-width="2.6" fill="none" stroke-linecap="round" stroke-linejoin="round"/>
<path d="M1453.1,180.5 A204.5,204.9 0 0 1 1462.6,194.2" stroke-width="2.5" fill="none" stroke-linecap="round" stroke-linejoin="round"/>
<path d="M1462.6,194.2 A204.5,204.9 0 0 1 1470.9,208.5" stroke-width="2.4" fill="none" stroke-linecap="round" stroke-linejoin="round"/>
<path d="M1470.9,208.5 A204.5,204.9 0 0 1 1478,223.5" stroke-width="2.4" fill="none" stroke-linecap="round" stroke-linejoin="round"/>
<path d="M1478,223.5 A204.5,204.9 0 0 1 1483.9,239" stroke-width="2.4" fill="none" stroke-linecap="round" stroke-linejoin="round"/>
<path d="M1483.9,239 A204.5,204.9 0 0 1 1488.6,255" stroke-width="2.4" fill="none" stroke-linecap="round" stroke-linejoin="round"/>
<path d="M1488.6,255 A204.5,204.9 0 0 1 1491.9,271.3" stroke-width="2.4" fill="none" stroke-linecap="round" stroke-linejoin="round"/>
<path d="M1491.9,271.3 A204.5,204.9 0 0 1 1493.9,287.7" stroke-width="2.4" fill="none" stroke-linecap="round" stroke-linejoin="round"/>
<path d="M1493.9,287.7 A204.5,204.9 0 0 1 1494.6,304.3" stroke-width="2.5" fill="none" stroke-linecap="round" stroke-linejoin="round"/>
<path d="M1494.6,304.3 A204.5,204.9 0 0 1 1493.9,320.9" stroke-width="2.5" fill="none" stroke-linecap="round" stroke-linejoin="round"/>
<path d="M1493.9,320.9 A204.5,204.9 0 0 1 1491.9,337.4" stroke-width="2.6" fill="none" stroke-linecap="round" stroke-linejoin="round"/>
<path d="M1488.2,355.3 A204.5,204.9 0 0 1 1483.2,371.7" stroke-width="2.9" fill="none" stroke-linecap="round" stroke-linejoin="round"/>
<path d="M1483.2,371.7 A204.5,204.9 0 0 1 1476.9,387.7" stroke-width="3" fill="none" stroke-linecap="round" stroke-linejoin="round"/>
<path d="M1476.9,387.7 A204.5,204.9 0 0 1 1469.3,403.1" stroke-width="3.2" fill="none" stroke-linecap="round" stroke-linejoin="round"/>
<path d="M1469.3,403.1 A204.5,204.9 0 0 1 1460.4,417.7" stroke-width="3.3" fill="none" stroke-linecap="round" stroke-linejoin="round"/>
<path d="M1460.4,417.7 A204.5,204.9 0 0 1 1450.3,431.6" stroke-width="3.5" fill="none" stroke-linecap="round" stroke-linejoin="round"/>
<path d="M1450.3,431.6 A204.5,204.9 0 0 1 1439.1,444.6" stroke-width="3.7" fill="none" stroke-linecap="round" stroke-linejoin="round"/>
<path d="M1439.1,444.6 A204.5,204.9 0 0 1 1426.9,456.6" stroke-width="3.9" fill="none" stroke-linecap="round" stroke-linejoin="round"/>
<path d="M1426.9,456.6 A204.5,204.9 0 0 1 1413.6,467.6" stroke-width="4" fill="none" stroke-linecap="round" stroke-linejoin="round"/>
<path d="M1413.6,467.6 A204.5,204.9 0 0 1 1399.6,477.4" stroke-width="4.2" fill="none" stroke-linecap="round" stroke-linejoin="round"/>
<path d="M1399.6,477.4 A204.5,204.9 0 0 1 1384.7,486" stroke-width="4.3" fill="none" stroke-linecap="round" stroke-linejoin="round"/>
<path d="M1384.7,486 A204.5,204.9 0 0 1 1369.2,493.3" stroke-width="4.5" fill="none" stroke-linecap="round" stroke-linejoin="round"/>
<path d="M1369.2,493.3 A204.5,204.9 0 0 1 1353.1,499.2" stroke-width="4.6" fill="none" stroke-linecap="round" stroke-linejoin="round"/>
<path d="M1353.1,499.2 A204.5,204.9 0 0 1 1336.6,503.8" stroke-width="4.7" fill="none" stroke-linecap="round" stroke-linejoin="round"/>
<path d="M1336.6,503.8 A204.5,204.9 0 0 1 1319.8,507" stroke-width="4.8" fill="none" stroke-linecap="round" stroke-linejoin="round"/>
<path d="M1319.8,507 A204.5,204.9 0 0 1 1302.7,508.8" stroke-width="4.9" fill="none" stroke-linecap="round" stroke-linejoin="round"/>
<path d="M1302.7,508.8 A204.5,204.9 0 0 1 1285.6,509.1" stroke-width="4.9" fill="none" stroke-linecap="round" stroke-linejoin="round"/>
<path d="M1285.6,509.1 A204.5,204.9 0 0 1 1268.5,508.1" stroke-width="4.9" fill="none" stroke-linecap="round" stroke-linejoin="round"/>
<path d="M1268.5,508.1 A204.5,204.9 0 0 1 1251.5,505.5" stroke-width="4.9" fill="none" stroke-linecap="round" stroke-linejoin="round"/>
<path d="M1251.5,505.5 A204.5,204.9 0 0 1 1234.8,501.6" stroke-width="4.9" fill="none" stroke-linecap="round" stroke-linejoin="round"/>
<path d="M1234.8,501.6 A204.5,204.9 0 0 1 1218.5,496.2" stroke-width="4.8" fill="none" stroke-linecap="round" stroke-linejoin="round"/>
<path d="M1218.5,496.2 A204.5,204.9 0 0 1 1202.7,489.6" stroke-width="4.7" fill="none" stroke-linecap="round" stroke-linejoin="round"/>
<path d="M1202.7,489.6 A204.5,204.9 0 0 1 1187.6,481.6" stroke-width="4.6" fill="none" stroke-linecap="round" stroke-linejoin="round"/>
<path d="M1187.6,481.6 A204.5,204.9 0 0 1 1173.1,472.4" stroke-width="4.5" fill="none" stroke-linecap="round" stroke-linejoin="round"/>
<path d="M1173.1,472.4 A204.5,204.9 0 0 1 1159.5,461.9" stroke-width="4.4" fill="none" stroke-linecap="round" stroke-linejoin="round"/>
<path d="M1120,418 A204.5,204.9 0 0 1 1110.8,402.9" stroke-width="3.7" fill="none" stroke-linecap="round" stroke-linejoin="round"/>
<path d="M1110.8,402.9 A204.5,204.9 0 0 1 1103,387.1" stroke-width="3.5" fill="none" stroke-linecap="round" stroke-linejoin="round"/>
<path d="M1103,387.1 A204.5,204.9 0 0 1 1096.6,370.7" stroke-width="3.4" fill="none" stroke-linecap="round" stroke-linejoin="round"/>
<path d="M1096.6,370.7 A204.5,204.9 0 0 1 1091.6,353.8" stroke-width="3.2" fill="none" stroke-linecap="round" stroke-linejoin="round"/>
<path d="M1091.6,353.8 A204.5,204.9 0 0 1 1088.1,336.5" stroke-width="3.1" fill="none" stroke-linecap="round" stroke-linejoin="round"/>
<path d="M1088.1,336.5 A204.5,204.9 0 0 1 1086.1,318.9" stroke-width="3" fill="none" stroke-linecap="round" stroke-linejoin="round"/>
<path d="M1086.1,318.9 A204.5,204.9 0 0 1 1085.6,301.3" stroke-width="2.9" fill="none" stroke-linecap="round" stroke-linejoin="round"/>
<path d="M1085.6,301.3 A204.5,204.9 0 0 1 1086.6,283.7" stroke-width="2.9" fill="none" stroke-linecap="round" stroke-linejoin="round"/>
<path d="M1086.6,283.7 A204.5,204.9 0 0 1 1089.2,266.3" stroke-width="2.8" fill="none" stroke-linecap="round" stroke-linejoin="round"/>
<path d="M1089.2,266.3 A204.5,204.9 0 0 1 1093.2,249.1" stroke-width="2.8" fill="none" stroke-linecap="round" stroke-linejoin="round"/>
<path d="M1093.2,249.1 A204.5,204.9 0 0 1 1098.6,232.3" stroke-width="2.8" fill="none" stroke-linecap="round" stroke-linejoin="round"/>
<path d="M1098.6,232.3 A204.5,204.9 0 0 1 1105.5,216.1" stroke-width="2.8" fill="none" stroke-linecap="round" stroke-linejoin="round"/>
<path d="M1105.5,216.1 A204.5,204.9 0 0 1 1113.8,200.5" stroke-width="2.8" fill="none" stroke-linecap="round" stroke-linejoin="round"/>
<path d="M1113.8,200.5 A204.5,204.9 0 0 1 1123.3,185.7" stroke-width="2.8" fill="none" stroke-linecap="round" stroke-linejoin="round"/>
<path d="M1123.3,185.7 A204.5,204.9 0 0 1 1134.1,171.8" stroke-width="2.8" fill="none" stroke-linecap="round" stroke-linejoin="round"/>
<path d="M1134.1,171.8 A204.5,204.9 0 0 1 1146.1,158.8" stroke-width="2.9" fill="none" stroke-linecap="round" stroke-linejoin="round"/>
<path d="M1146.1,158.8 A204.5,204.9 0 0 1 1159.1,147" stroke-width="2.9" fill="none" stroke-linecap="round" stroke-linejoin="round"/>
<path d="M1159.1,147 A204.5,204.9 0 0 1 1173.1,136.3" stroke-width="3" fill="none" stroke-linecap="round" stroke-linejoin="round"/>
<path d="M1173.1,136.3 A204.5,204.9 0 0 1 1188,126.8" stroke-width="3.1" fill="none" stroke-linecap="round" stroke-linejoin="round"/>
<path d="M1188,126.8 A204.5,204.9 0 0 1 1203.6,118.6" stroke-width="3.1" fill="none" stroke-linecap="round" stroke-linejoin="round"/>
<path d="M1203.6,118.6 A204.5,204.9 0 0 1 1219.8,111.9" stroke-width="3.1" fill="none" stroke-linecap="round" stroke-linejoin="round"/>
<path d="M1219.8,111.9 A204.5,204.9 0 0 1 1236.6,106.5" stroke-width="3.2" fill="none" stroke-linecap="round" stroke-linejoin="round"/>
<path d="M1236.6,106.5 A204.5,204.9 0 0 1 1253.8,102.7" stroke-width="3.2" fill="none" stroke-linecap="round" stroke-linejoin="round"/>
<path d="M1253.8,102.7 A204.5,204.9 0 0 1 1271.2,100.3" stroke-width="3.2" fill="none" stroke-linecap="round" stroke-linejoin="round"/>
<path d="M1271.2,100.3 A204.5,204.9 0 0 1 1288.8,99.4" stroke-width="3.2" fill="none" stroke-linecap="round" stroke-linejoin="round"/>
<path d="M1288.8,99.4 A204.5,204.9 0 0 1 1306.4,100.1" stroke-width="3.2" fill="none" stroke-linecap="round" stroke-linejoin="round"/>
<path d="M1306.4,100.1 A204.5,204.9 0 0 1 1323.9,102.2" stroke-width="3.2" fill="none" stroke-linecap="round" stroke-linejoin="round"/>
<path d="M1323.9,102.2 A204.5,204.9 0 0 1 1341.1,105.9" stroke-width="3.1" fill="none" stroke-linecap="round" stroke-linejoin="round"/>
<path d="M1341.1,105.9 A204.5,204.9 0 0 1 1357.9,111" stroke-width="3.1" fill="none" stroke-linecap="round" stroke-linejoin="round"/>
<path d="M1357.9,111 A204.5,204.9 0 0 1 1374.3,117.6" stroke-width="3" fill="none" stroke-linecap="round" stroke-linejoin="round"/>
<path d="M1374.3,117.6 A204.5,204.9 0 0 1 1390,125.5" stroke-width="2.9" fill="none" stroke-linecap="round" stroke-linejoin="round"/>
<path d="M1390,125.5 A204.5,204.9 0 0 1 1404.9,134.8" stroke-width="2.8" fill="none" stroke-linecap="round" stroke-linejoin="round"/>
<path d="M1404.9,134.8 A204.5,204.9 0 0 1 1419.1,145.3" stroke-width="2.8" fill="none" stroke-linecap="round" stroke-linejoin="round"/>
<path d="M1491.9,337.4 L1473.8,334.7" stroke-width="2.4" fill="none" stroke-linecap="round" stroke-linejoin="round"/>
<path d="M1488.2,355.3 L1472.8,352.2" stroke-width="2.4" fill="none" stroke-linecap="round" stroke-linejoin="round"/>
<path d="M1309.7,305 L1740,305" stroke-width="5.4" fill="none" stroke-linecap="round" stroke-linejoin="round"/>
<path d="M1751,304.8 L1713,312.8 L1724.4,304.8 L1713,296.8 Z" stroke-width="1" fill="#000" stroke-linejoin="round"/>
<path d="M1367.8,305 A9.5,9.5 0 0 1 1386.8,305" stroke-width="2.4" fill="none" stroke-linecap="round" stroke-linejoin="round"/>
<path d="M1610,305 A10,10 0 0 1 1630,305" stroke-width="2.4" fill="none" stroke-linecap="round" stroke-linejoin="round"/>
<path d="M1274.8,290.3 A20.7,20.7 0 0 1 1303.2,320.3" stroke-width="2.8" fill="none" stroke-linecap="round" stroke-linejoin="round"/>
<path d="M1274.8,290.3 L1148.2,408.8" stroke-width="4" fill="none" stroke-linecap="round" stroke-linejoin="round"/>
<path d="M1094.8,458 L991.8,554.3" stroke-width="4" fill="none" stroke-linecap="round" stroke-linejoin="round"/>
<path d="M1303.2,320.3 L1166.3,450.7" stroke-width="4" fill="none" stroke-linecap="round" stroke-linejoin="round"/>
<path d="M1126,486.8 L1017.3,590.4" stroke-width="4" fill="none" stroke-linecap="round" stroke-linejoin="round"/>
<circle cx="1004.6" cy="572.4" r="21" stroke-width="3" fill="#fff"/>
<path d="M1001.4,546.5 A21,21 0 0 1 1030.3,577" stroke-width="2.6" fill="none" stroke-linecap="round" stroke-linejoin="round"/>
<path d="M1012.6,535.8 A21,21 0 0 1 1041.5,566.3" stroke-width="2.6" fill="none" stroke-linecap="round" stroke-linejoin="round"/>
<path d="M1023.9,525.2 A21,21 0 0 1 1052.8,555.6" stroke-width="2.6" fill="none" stroke-linecap="round" stroke-linejoin="round"/>
<path d="M1057.5,540 L1059,699" stroke-width="2.8" fill="none" stroke-linecap="round" stroke-linejoin="round"/>
<rect x="1010" y="699" width="94.4" height="75" stroke-width="2.8" fill="none"/>
<path d="M 1061.3,724.3 C 1060.7,720.7 1059.1,719.7 1056.7,719.7 C 1052.6,719.7 1048.9,727.8 1047.5,735.9 C 1045.8,745.6 1047.1,752.1 1050.7,752.1 C 1054.2,752.1 1057.6,746.2 1058.8,739.1 L 1059.2,736.5 L 1053.9,736.5" stroke-width="3.9" fill="none" stroke-linecap="round" stroke-linejoin="round"/>
<path d="M984.6,687 L985,750" stroke-width="2.6" fill="none" stroke-linecap="round" stroke-linejoin="round"/>
<path d="M985.5,778.3 L978,743.4 L985.2,752.1 L992,743.2 Z" stroke-width="1" fill="#000" stroke-linejoin="round"/>
<path d="M990.7,521.4 A53,53 0 1 1 1081.1,573.6" stroke-width="5" fill="none" stroke-linecap="round" stroke-linejoin="round"/>
<path d="M1068,586.5 L1081.8,565.8 L1081.6,574.7 L1090.4,575.7 Z" stroke-width="1" fill="#000" stroke-linejoin="round"/>
<path d="M1117,420.3 L1176.1,404.7 L1156.4,472 L1155.6,440" stroke-width="2.8" fill="none" stroke-linecap="round" stroke-linejoin="round"/>
<path d="M1117,420.3 L1142.4,426 L1106.3,461.3 L1101.4,455.6 L1126.8,427.7" stroke-width="2.8" fill="none" stroke-linecap="round" stroke-linejoin="round"/>
<path d="M1155.6,440 L1118.6,474.5 L1126,482.7 L1154,459.7" stroke-width="2.8" fill="none" stroke-linecap="round" stroke-linejoin="round"/>
<path d="M1023.2,440.2 Q1061.7,428.1 1101.4,455.6" stroke-width="4" fill="none" stroke-linecap="round" stroke-linejoin="round"/>
<path d="M1127,480.8 Q1141.6,501.1 1142.7,539.4" stroke-width="4" fill="none" stroke-linecap="round" stroke-linejoin="round"/>
<circle cx="1160.2" cy="145.3" r="9.2" stroke-width="3" fill="#fff"/>
<path d="M1153.5,138.5 L1097,81.8" stroke-width="2.6" fill="none" stroke-linecap="round" stroke-linejoin="round"/>
<path d="M1097,81.8 Q1135.5,52.6 1162,41" stroke-width="3.6" fill="none" stroke-linecap="round" stroke-linejoin="round"/>
<path d="M1180.4,29.3 L1162,49 L1163.8,39.6 L1154.6,37.1 Z" stroke-width="1" fill="#000" stroke-linejoin="round"/>
<path d="M1377.8,298.7 A88,88 0 0 0 1224.6,245.9" stroke-width="2.8" fill="none" stroke-linecap="round" stroke-linejoin="round"/>
<path d="M1216.7,254.2 L1229,232.6 L1229.4,241.4 L1238.2,241.8 Z" stroke-width="1" fill="#000" stroke-linejoin="round"/>
<path d="M1620,294 Q1615.5,239.1 1605,225" stroke-width="2.8" fill="none" stroke-linecap="round" stroke-linejoin="round"/>
<path d="M1600,202.3 L1612.2,228.2 L1604.8,222.8 L1600.5,230.9 Z" stroke-width="1" fill="#000" stroke-linejoin="round"/>
<circle cx="1469.7" cy="396.4" r="9" stroke-width="3" fill="#fff"/>
<path d="M1478.5,400.5 L1547.8,441.6 L1583,383" stroke-width="5" fill="none" stroke-linecap="round" stroke-linejoin="round"/>
<path d="M1592,367.6 L1583.8,395.3 L1581.4,385.7 L1571.8,388.2 Z" stroke-width="1" fill="#000" stroke-linejoin="round"/>
<circle cx="1453.3" cy="338.8" r="19.5" stroke-width="2.8" fill="#fff"/>
<circle cx="1453.3" cy="338.8" r="4.5" stroke-width="2" fill="#fff"/>
<path d="M1436.8,281.3 L1450.2,318.3" stroke-width="2.4" fill="none" stroke-linecap="round" stroke-linejoin="round"/>
<path d="M1316,335 Q1329.8,349.2 1348.5,366.6" stroke-width="2.8" fill="none" stroke-linecap="round" stroke-linejoin="round"/>
<path d="M1348.5,366.6 L1399.9,345 L1388.6,328.6 L1441,338.8 L1421.4,393.3 L1415.3,370.7 L1374.2,409.7" stroke-width="2.8" fill="none" stroke-linecap="round" stroke-linejoin="round"/>
<path d="M1374.2,409.7 Q1376.8,427.8 1385.5,456" stroke-width="2.8" fill="none" stroke-linecap="round" stroke-linejoin="round"/>
<path d="M1425.5,18.5 Q1433.8,58.5 1462.5,111" stroke-width="3" fill="none" stroke-linecap="round" stroke-linejoin="round"/>
<path d="M1462.5,111 L1410.1,162.3 L1403,143.8 L1391.6,200.3 L1446.1,191.1 L1430.7,179.8 L1481,131.5" stroke-width="2.8" fill="none" stroke-linecap="round" stroke-linejoin="round"/>
<path d="M1481,131.5 Q1522.2,155.1 1575.5,166.4" stroke-width="3" fill="none" stroke-linecap="round" stroke-linejoin="round"/>
<path transform="matrix(37.200 0 0 37.800 1208.6 7.9)" d="M0.40,0.83 C0.40,0.70 0.05,0.70 0.05,0.45 C0.05,0.20 0.27,0.07 0.52,0.07 C0.78,0.07 0.95,0.22 0.95,0.42 C0.95,0.63 0.64,0.68 0.62,0.83" fill="none" stroke-width="5.3" vector-effect="non-scaling-stroke" stroke-linecap="butt"/>
<path d="M1209.3,39.3 L1225.7,38.1 L1225.3,45.7 L1209.7,45.7 Z" stroke="none" fill="#000"/>
<path d="M1229.4,38.1 L1244.7,38.9 L1244.7,45.7 L1229.4,45.7 Z" stroke="none" fill="#000"/>
<path transform="matrix(36.000 0 0 36.000 1145.8 249)" d="M0.40,0.83 C0.40,0.70 0.05,0.70 0.05,0.45 C0.05,0.20 0.27,0.07 0.52,0.07 C0.78,0.07 0.95,0.22 0.95,0.42 C0.95,0.63 0.64,0.68 0.62,0.83" fill="none" stroke-width="5" vector-effect="non-scaling-stroke" stroke-linecap="butt"/>
<path d="M1146.5,278.9 L1162.4,277.8 L1162,285 L1146.9,285 Z" stroke="none" fill="#000"/>
<path d="M1166,277.8 L1180.7,278.5 L1180.7,285 L1166,285 Z" stroke="none" fill="#000"/>
<path d="M 1202.1,278.8 C 1201.3,277.1 1200,276.5 1198.3,276.5 C 1195.8,276.5 1194.2,278.8 1194,281.7 C 1193.8,285.1 1196,285.7 1197.7,286.5 C 1199.8,287.3 1201.5,288.4 1201.4,291.5 C 1201.2,294.4 1199.3,295.7 1197.1,295.7 C 1195.4,295.7 1193.8,294.7 1193,293" stroke-width="3.4" fill="none" stroke-linecap="round" stroke-linejoin="round"/>
<path d="M 1498.3,100.8 L 1505,67.6 L 1513.4,67.6 C 1517.6,67.6 1518.3,71.6 1517.3,76.6 C 1516.2,81.9 1513.7,85.9 1509.8,85.9 L 1501.3,85.9" stroke-width="3.9" fill="none" stroke-linecap="round" stroke-linejoin="round"/>
<path d="M 1525.4,94.8 C 1527.6,92.4 1529.5,92.1 1531.2,92.1 C 1534.8,92.1 1536.3,96.1 1535.3,101.2 C 1534.2,106.7 1531.1,110.3 1527.6,110.3 C 1525.2,110.3 1523.3,109.4 1522.4,106.7 M 1527.6,101.2 L 1535.3,101.2" stroke-width="3.4" fill="none" stroke-linecap="round" stroke-linejoin="round"/>
<path d="M 1537.9,110.3 L 1541.6,92.1 L 1547.2,103.4 L 1557.3,92.1 L 1553.7,110.3" stroke-width="3.4" fill="none" stroke-linecap="round" stroke-linejoin="round"/>
<path transform="matrix(36.100 0 0 38.500 1531.6 212.3)" d="M0.40,0.83 C0.40,0.70 0.05,0.70 0.05,0.45 C0.05,0.20 0.27,0.07 0.52,0.07 C0.78,0.07 0.95,0.22 0.95,0.42 C0.95,0.63 0.64,0.68 0.62,0.83" fill="none" stroke-width="5.4" vector-effect="non-scaling-stroke" stroke-linecap="butt"/>
<path d="M1532.3,244.3 L1548.2,243.1 L1547.8,250.8 L1532.7,250.8 Z" stroke="none" fill="#000"/>
<path d="M1551.8,243.1 L1566.6,243.9 L1566.6,250.8 L1551.8,250.8 Z" stroke="none" fill="#000"/>
<path d="M1573.5,245.3 L1583.5,235.7 L1576.5,259.2" stroke-width="3.4" fill="none" stroke-linecap="round" stroke-linejoin="round"/>
<path d="M 1412.7,237.9 L 1408.1,259.1" stroke-width="3.9" fill="none" stroke-linecap="round" stroke-linejoin="round"/>
<circle cx="1415.2" cy="227.9" r="2.9" stroke="none" fill="#000"/>
<path d="M 1433,256.4 C 1434.3,252.9 1437.3,251.3 1440.1,251.3 C 1443.8,251.3 1445.2,254.2 1444.4,257.8 C 1443.6,261.9 1439.1,265.1 1434.6,268.1 L 1429.3,271.6 L 1442.3,271.6" stroke-width="3.4" fill="none" stroke-linecap="round" stroke-linejoin="round"/>
<path d="M 1466,251.3 L 1461.9,271.6 M 1464.4,259.4 C 1464.8,253.7 1462.3,251.3 1458.6,251.3 C 1454.2,251.3 1450.2,256.4 1449,262.5 C 1447.9,267.9 1449.8,271.6 1453.8,271.6 C 1457.8,271.6 1461.4,268.5 1463.6,263.5" stroke-width="3.4" fill="none" stroke-linecap="round" stroke-linejoin="round"/>
<path d="M 1708.9,249.7 L 1715.2,218.1 L 1722.8,218.1 C 1727,218.1 1727.8,221.3 1726.9,225.4 C 1726.1,229.8 1723.7,232.6 1719.9,232.6 L 1712.3,232.6 M 1719.9,232.6 C 1724.5,232.6 1725.4,236.4 1724.5,241.2 C 1723.4,246.5 1720.7,249.7 1716.5,249.7 L 1708.9,249.7" stroke-width="3.8" fill="none" stroke-linecap="round" stroke-linejoin="round"/>
<circle cx="1721" cy="205.4" r="3.6" stroke="none" fill="#000"/>
<path d="M 1732.7,256.8 L 1736.2,239.4 M 1735.1,244.6 C 1736.9,240.8 1739.9,239.4 1742.4,239.4 C 1745.3,239.4 1746.2,241.1 1745.6,244.3 L 1743.1,256.8 M 1745.6,244.3 C 1747.4,240.8 1750.4,239.4 1752.9,239.4 C 1755.8,239.4 1756.7,241.1 1756.1,244.3 L 1753.5,256.8" stroke-width="3.3" fill="none" stroke-linecap="round" stroke-linejoin="round"/>
<path d="M 1602.9,420.1 L 1609.1,388.9 L 1614.3,408.2 L 1627.1,388.9 L 1620.9,420.1" stroke-width="3.8" fill="none" stroke-linecap="round" stroke-linejoin="round"/>
<path d="M 1293.7,431.8 L 1300.2,399.4 L 1310.4,399.4 C 1315.6,399.4 1316.5,403.3 1315.5,408.2 C 1314.5,413.3 1311.7,417.2 1306.9,417.2 L 1296.6,417.2" stroke-width="3.9" fill="none" stroke-linecap="round" stroke-linejoin="round"/>
<path d="M 1318.1,423.9 C 1320.3,420.7 1322,420.2 1323.6,420.2 C 1326.8,420.2 1327.9,425.7 1326.5,432.6 C 1325,440.1 1321.9,445.1 1318.7,445.1 C 1316.5,445.1 1314.8,443.9 1314.3,440.1 M 1319.5,432.6 L 1326.5,432.6" stroke-width="3.6" fill="none" stroke-linecap="round" stroke-linejoin="round"/>
<path d="M 1332.3,426.4 C 1333.7,422.2 1336.2,420.2 1338.6,420.2 C 1341.6,420.2 1342.5,423.7 1341.6,428.2 C 1340.6,433.1 1336.6,437.1 1332.6,440.9 L 1328,445.1 L 1338.7,445.1" stroke-width="3.6" fill="none" stroke-linecap="round" stroke-linejoin="round"/>
<circle cx="1190.8" cy="321.5" r="1.6" stroke="none" fill="#000"/>
<ellipse cx="1658.5" cy="675.6" rx="3" ry="1.3" stroke="none" fill="#000"/>
<path d="M925.4,359.2 L925.4,427.5" stroke-width="2.8" fill="none" stroke-linecap="round" stroke-linejoin="round"/>
<path d="M1033,362.3 L1033,424.4" stroke-width="2.8" fill="none" stroke-linecap="round" stroke-linejoin="round"/>
<path d="M 938.6,401.3 L 945.5,366.8 L 952,366.8 C 955.2,366.8 955.5,370.9 954.5,376.1 C 953.4,381.6 951.2,385.8 948.2,385.8 L 941.7,385.8" stroke-width="3.9" fill="none" stroke-linecap="round" stroke-linejoin="round"/>
<path d="M 955.1,411.5 L 958.9,392.6 L 966.3,404.3 L 978.3,392.6 L 974.5,411.5" stroke-width="3.4" fill="none" stroke-linecap="round" stroke-linejoin="round"/>
<path d="M 982.5,403 L 997,402 C 998.6,396.4 996.2,392.6 991.6,392.6 C 986.9,392.6 982.6,398.3 981.5,403.9 C 980.6,408.7 983.1,411.5 987,411.5 C 990.9,411.5 993.5,410 995.5,407.7" stroke-width="3.4" fill="none" stroke-linecap="round" stroke-linejoin="round"/>
<path d="M 1004.2,395.4 C 1007.4,392.6 1012.2,392.6 1012.1,398.3 L 1011.3,405.8 C 1011.2,411.5 1015.9,411.5 1019.1,408.7 M 1021.9,394.9 C 1018.6,393.5 1015.4,396.4 1011.7,402 C 1007.9,407.7 1004.5,411.5 1001.4,409.6" stroke-width="3.4" fill="none" stroke-linecap="round" stroke-linejoin="round"/>
<path d="M1101.2,592.5 L1101.2,664.7" stroke-width="2.8" fill="none" stroke-linecap="round" stroke-linejoin="round"/>
<path d="M1186.1,589.3 L1186.1,666.8" stroke-width="2.8" fill="none" stroke-linecap="round" stroke-linejoin="round"/>
<path d="M 1124.3,638.4 L 1130.1,609.3 L 1135.5,627.3 L 1148.1,609.3 L 1142.3,638.4" stroke-width="3.8" fill="none" stroke-linecap="round" stroke-linejoin="round"/>
<path d="M 1152.7,652.3 L 1155.2,634.6 L 1160.8,634.6 C 1163.8,634.6 1164.6,636.3 1164.3,638.7 C 1163.9,641.1 1162.4,642.7 1159.6,642.7 L 1154,642.7 M 1159.6,642.7 C 1163,642.7 1163.9,644.9 1163.5,647.5 C 1163.1,650.6 1161.3,652.3 1158.3,652.3 L 1152.7,652.3" stroke-width="3.3" fill="none" stroke-linecap="round" stroke-linejoin="round"/>
<path d="M 1439.6,647.7 L 1444.6,612 L 1449.9,612 C 1452.8,612 1453.2,615.6 1452.6,620.2 C 1451.9,625.2 1450.2,628.4 1447.6,628.4 L 1442.3,628.4 M 1447.6,628.4 C 1450.8,628.4 1451.3,632.7 1450.6,638.1 C 1449.7,644.1 1447.8,647.7 1444.9,647.7 L 1439.6,647.7" stroke-width="4" fill="none" stroke-linecap="round" stroke-linejoin="round"/>
<path d="M 1468.2,609.3 C 1484.7,622.9 1485.7,650.1 1466.2,663.7" stroke-width="4.7" fill="none" stroke-linecap="round" stroke-linejoin="round"/>
<path d="M1452.6,963 A220.8,218.2 0 0 1 1464.6,977.5" stroke-width="4.5" fill="none" stroke-linecap="round" stroke-linejoin="round"/>
<path d="M1464.6,977.5 A220.8,218.2 0 0 1 1475.3,992.9" stroke-width="4.4" fill="none" stroke-linecap="round" stroke-linejoin="round"/>
<path d="M1475.3,992.9 A220.8,218.2 0 0 1 1484.6,1009.2" stroke-width="4.3" fill="none" stroke-linecap="round" stroke-linejoin="round"/>
<path d="M1484.6,1009.2 A220.8,218.2 0 0 1 1492.5,1026.2" stroke-width="4.2" fill="none" stroke-linecap="round" stroke-linejoin="round"/>
<path d="M1492.5,1026.2 A220.8,218.2 0 0 1 1498.8,1043.9" stroke-width="4.1" fill="none" stroke-linecap="round" stroke-linejoin="round"/>
<path d="M1498.8,1043.9 A220.8,218.2 0 0 1 1503.6,1062" stroke-width="4" fill="none" stroke-linecap="round" stroke-linejoin="round"/>
<path d="M1503.6,1062 A220.8,218.2 0 0 1 1506.8,1080.4" stroke-width="4" fill="none" stroke-linecap="round" stroke-linejoin="round"/>
<path d="M1506.8,1080.4 A220.8,218.2 0 0 1 1508.4,1099.1" stroke-width="3.9" fill="none" stroke-linecap="round" stroke-linejoin="round"/>
<path d="M1508.4,1099.1 A220.8,218.2 0 0 1 1508.4,1117.8" stroke-width="3.9" fill="none" stroke-linecap="round" stroke-linejoin="round"/>
<path d="M1508.4,1117.8 A220.8,218.2 0 0 1 1506.7,1136.4" stroke-width="3.9" fill="none" stroke-linecap="round" stroke-linejoin="round"/>
<path d="M1506.7,1136.4 A220.8,218.2 0 0 1 1503.5,1154.9" stroke-width="3.9" fill="none" stroke-linecap="round" stroke-linejoin="round"/>
<path d="M1503.5,1154.9 A220.8,218.2 0 0 1 1498.6,1172.9" stroke-width="4" fill="none" stroke-linecap="round" stroke-linejoin="round"/>
<path d="M1498.6,1172.9 A220.8,218.2 0 0 1 1492.2,1190.6" stroke-width="4" fill="none" stroke-linecap="round" stroke-linejoin="round"/>
<path d="M1492.2,1190.6 A220.8,218.2 0 0 1 1484.4,1207.6" stroke-width="4.1" fill="none" stroke-linecap="round" stroke-linejoin="round"/>
<path d="M1484.4,1207.6 A220.8,218.2 0 0 1 1475,1223.9" stroke-width="4.2" fill="none" stroke-linecap="round" stroke-linejoin="round"/>
<path d="M1475,1223.9 A220.8,218.2 0 0 1 1464.3,1239.3" stroke-width="4.3" fill="none" stroke-linecap="round" stroke-linejoin="round"/>
<path d="M1464.3,1239.3 A220.8,218.2 0 0 1 1452.3,1253.7" stroke-width="4.4" fill="none" stroke-linecap="round" stroke-linejoin="round"/>
<path d="M1452.3,1253.7 A220.8,218.2 0 0 1 1439.1,1267.1" stroke-width="4.5" fill="none" stroke-linecap="round" stroke-linejoin="round"/>
<path d="M1439.1,1267.1 A220.8,218.2 0 0 1 1424.7,1279.4" stroke-width="4.6" fill="none" stroke-linecap="round" stroke-linejoin="round"/>
<path d="M1424.7,1279.4 A220.8,218.2 0 0 1 1409.4,1290.3" stroke-width="4.7" fill="none" stroke-linecap="round" stroke-linejoin="round"/>
<path d="M1409.4,1290.3 A220.8,218.2 0 0 1 1393.1,1300" stroke-width="4.8" fill="none" stroke-linecap="round" stroke-linejoin="round"/>
<path d="M1393.1,1300 A220.8,218.2 0 0 1 1376.1,1308.2" stroke-width="4.8" fill="none" stroke-linecap="round" stroke-linejoin="round"/>
<path d="M1376.1,1308.2 A220.8,218.2 0 0 1 1358.5,1314.9" stroke-width="4.9" fill="none" stroke-linecap="round" stroke-linejoin="round"/>
<path d="M1358.5,1314.9 A220.8,218.2 0 0 1 1340.3,1320.1" stroke-width="5" fill="none" stroke-linecap="round" stroke-linejoin="round"/>
<path d="M1340.3,1320.1 A220.8,218.2 0 0 1 1321.7,1323.8" stroke-width="5" fill="none" stroke-linecap="round" stroke-linejoin="round"/>
<path d="M1321.7,1323.8 A220.8,218.2 0 0 1 1302.9,1325.9" stroke-width="5" fill="none" stroke-linecap="round" stroke-linejoin="round"/>
<path d="M1302.9,1325.9 A220.8,218.2 0 0 1 1284,1326.4" stroke-width="5" fill="none" stroke-linecap="round" stroke-linejoin="round"/>
<path d="M1284,1326.4 A220.8,218.2 0 0 1 1265,1325.2" stroke-width="5" fill="none" stroke-linecap="round" stroke-linejoin="round"/>
<path d="M1265,1325.2 A220.8,218.2 0 0 1 1246.3,1322.5" stroke-width="4.9" fill="none" stroke-linecap="round" stroke-linejoin="round"/>
<path d="M1246.3,1322.5 A220.8,218.2 0 0 1 1227.9,1318.2" stroke-width="4.9" fill="none" stroke-linecap="round" stroke-linejoin="round"/>
<path d="M1227.9,1318.2 A220.8,218.2 0 0 1 1209.9,1312.4" stroke-width="4.8" fill="none" stroke-linecap="round" stroke-linejoin="round"/>
<path d="M1209.9,1312.4 A220.8,218.2 0 0 1 1192.5,1305" stroke-width="4.7" fill="none" stroke-linecap="round" stroke-linejoin="round"/>
<path d="M1192.5,1305 A220.8,218.2 0 0 1 1175.8,1296.3" stroke-width="4.6" fill="none" stroke-linecap="round" stroke-linejoin="round"/>
<path d="M1175.8,1296.3 A220.8,218.2 0 0 1 1159.9,1286.1" stroke-width="4.4" fill="none" stroke-linecap="round" stroke-linejoin="round"/>
<path d="M1159.9,1286.1 A220.8,218.2 0 0 1 1144.9,1274.6" stroke-width="4.3" fill="none" stroke-linecap="round" stroke-linejoin="round"/>
<path d="M1113.2,1241.9 A220.8,218.2 0 0 1 1102.3,1226.7" stroke-width="3.9" fill="none" stroke-linecap="round" stroke-linejoin="round"/>
<path d="M1102.3,1226.7 A220.8,218.2 0 0 1 1092.7,1210.6" stroke-width="3.7" fill="none" stroke-linecap="round" stroke-linejoin="round"/>
<path d="M1092.7,1210.6 A220.8,218.2 0 0 1 1084.6,1193.7" stroke-width="3.6" fill="none" stroke-linecap="round" stroke-linejoin="round"/>
<path d="M1084.6,1193.7 A220.8,218.2 0 0 1 1077.9,1176.3" stroke-width="3.5" fill="none" stroke-linecap="round" stroke-linejoin="round"/>
<path d="M1077.9,1176.3 A220.8,218.2 0 0 1 1072.8,1158.3" stroke-width="3.5" fill="none" stroke-linecap="round" stroke-linejoin="round"/>
<path d="M1072.8,1158.3 A220.8,218.2 0 0 1 1069.3,1140" stroke-width="3.4" fill="none" stroke-linecap="round" stroke-linejoin="round"/>
<path d="M1069.3,1140 A220.8,218.2 0 0 1 1067.3,1121.4" stroke-width="3.4" fill="none" stroke-linecap="round" stroke-linejoin="round"/>
<path d="M1067.3,1121.4 A220.8,218.2 0 0 1 1067,1102.7" stroke-width="3.4" fill="none" stroke-linecap="round" stroke-linejoin="round"/>
<path d="M1067,1102.7 A220.8,218.2 0 0 1 1068.2,1084.1" stroke-width="3.4" fill="none" stroke-linecap="round" stroke-linejoin="round"/>
<path d="M1068.2,1084.1 A220.8,218.2 0 0 1 1071.1,1065.6" stroke-width="3.5" fill="none" stroke-linecap="round" stroke-linejoin="round"/>
<path d="M1071.1,1065.6 A220.8,218.2 0 0 1 1075.6,1047.5" stroke-width="3.5" fill="none" stroke-linecap="round" stroke-linejoin="round"/>
<path d="M1075.6,1047.5 A220.8,218.2 0 0 1 1081.6,1029.8" stroke-width="3.6" fill="none" stroke-linecap="round" stroke-linejoin="round"/>
<path d="M1081.6,1029.8 A220.8,218.2 0 0 1 1089.1,1012.7" stroke-width="3.7" fill="none" stroke-linecap="round" stroke-linejoin="round"/>
<path d="M1089.1,1012.7 A220.8,218.2 0 0 1 1098.1,996.3" stroke-width="3.8" fill="none" stroke-linecap="round" stroke-linejoin="round"/>
<path d="M1098.1,996.3 A220.8,218.2 0 0 1 1108.5,980.7" stroke-width="4" fill="none" stroke-linecap="round" stroke-linejoin="round"/>
<path d="M1108.5,980.7 A220.8,218.2 0 0 1 1120.2,966" stroke-width="4.1" fill="none" stroke-linecap="round" stroke-linejoin="round"/>
<path d="M1120.2,966 A220.8,218.2 0 0 1 1133.1,952.3" stroke-width="4.3" fill="none" stroke-linecap="round" stroke-linejoin="round"/>
<path d="M1133.1,952.3 A220.8,218.2 0 0 1 1147.1,939.9" stroke-width="4.4" fill="none" stroke-linecap="round" stroke-linejoin="round"/>
<path d="M1147.1,939.9 A220.8,218.2 0 0 1 1162.2,928.6" stroke-width="4.6" fill="none" stroke-linecap="round" stroke-linejoin="round"/>
<path d="M1162.2,928.6 A220.8,218.2 0 0 1 1178.2,918.6" stroke-width="4.7" fill="none" stroke-linecap="round" stroke-linejoin="round"/>
<path d="M1178.2,918.6 A220.8,218.2 0 0 1 1195,910.1" stroke-width="4.9" fill="none" stroke-linecap="round" stroke-linejoin="round"/>
<path d="M1195,910.1 A220.8,218.2 0 0 1 1212.4,903" stroke-width="5" fill="none" stroke-linecap="round" stroke-linejoin="round"/>
<path d="M1212.4,903 A220.8,218.2 0 0 1 1230.5,897.4" stroke-width="5.1" fill="none" stroke-linecap="round" stroke-linejoin="round"/>
<path d="M1230.5,897.4 A220.8,218.2 0 0 1 1248.9,893.3" stroke-width="5.2" fill="none" stroke-linecap="round" stroke-linejoin="round"/>
<path d="M1248.9,893.3 A220.8,218.2 0 0 1 1267.6,890.8" stroke-width="5.2" fill="none" stroke-linecap="round" stroke-linejoin="round"/>
<path d="M1267.6,890.8 A220.8,218.2 0 0 1 1286.5,889.9" stroke-width="5.3" fill="none" stroke-linecap="round" stroke-linejoin="round"/>
<path d="M1286.5,889.9 A220.8,218.2 0 0 1 1305.4,890.6" stroke-width="5.3" fill="none" stroke-linecap="round" stroke-linejoin="round"/>
<path d="M1305.4,890.6 A220.8,218.2 0 0 1 1324.1,892.9" stroke-width="5.3" fill="none" stroke-linecap="round" stroke-linejoin="round"/>
<path d="M1324.1,892.9 A220.8,218.2 0 0 1 1342.6,896.7" stroke-width="5.3" fill="none" stroke-linecap="round" stroke-linejoin="round"/>
<path d="M1342.6,896.7 A220.8,218.2 0 0 1 1360.7,902.2" stroke-width="5.2" fill="none" stroke-linecap="round" stroke-linejoin="round"/>
<path d="M1360.7,902.2 A220.8,218.2 0 0 1 1378.3,909.1" stroke-width="5.2" fill="none" stroke-linecap="round" stroke-linejoin="round"/>
<path d="M1378.3,909.1 A220.8,218.2 0 0 1 1395.1,917.4" stroke-width="5.1" fill="none" stroke-linecap="round" stroke-linejoin="round"/>
<path d="M1395.1,917.4 A220.8,218.2 0 0 1 1411.2,927.2" stroke-width="5" fill="none" stroke-linecap="round" stroke-linejoin="round"/>
<path d="M1411.2,927.2 A220.8,218.2 0 0 1 1426.4,938.3" stroke-width="4.9" fill="none" stroke-linecap="round" stroke-linejoin="round"/>
<path d="M1436.6,981.4 A196.5,193.9 0 0 1 1447,994.4" stroke-width="3.7" fill="none" stroke-linecap="round" stroke-linejoin="round"/>
<path d="M1447,994.4 A196.5,193.9 0 0 1 1456.3,1008.2" stroke-width="3.7" fill="none" stroke-linecap="round" stroke-linejoin="round"/>
<path d="M1456.3,1008.2 A196.5,193.9 0 0 1 1464.4,1022.7" stroke-width="3.6" fill="none" stroke-linecap="round" stroke-linejoin="round"/>
<path d="M1464.4,1022.7 A196.5,193.9 0 0 1 1471.1,1037.8" stroke-width="3.6" fill="none" stroke-linecap="round" stroke-linejoin="round"/>
<path d="M1471.1,1037.8 A196.5,193.9 0 0 1 1476.5,1053.5" stroke-width="3.6" fill="none" stroke-linecap="round" stroke-linejoin="round"/>
<path d="M1476.5,1053.5 A196.5,193.9 0 0 1 1480.6,1069.5" stroke-width="3.5" fill="none" stroke-linecap="round" stroke-linejoin="round"/>
<path d="M1480.6,1069.5 A196.5,193.9 0 0 1 1483.3,1085.8" stroke-width="3.6" fill="none" stroke-linecap="round" stroke-linejoin="round"/>
<path d="M1483.3,1085.8 A196.5,193.9 0 0 1 1484.5,1102.3" stroke-width="3.6" fill="none" stroke-linecap="round" stroke-linejoin="round"/>
<path d="M1484.5,1102.3 A196.5,193.9 0 0 1 1484.3,1118.9" stroke-width="3.6" fill="none" stroke-linecap="round" stroke-linejoin="round"/>
<path d="M1484.3,1118.9 A196.5,193.9 0 0 1 1482.7,1135.3" stroke-width="3.7" fill="none" stroke-linecap="round" stroke-linejoin="round"/>
<path d="M1482.7,1135.3 A196.5,193.9 0 0 1 1479.7,1151.6" stroke-width="3.7" fill="none" stroke-linecap="round" stroke-linejoin="round"/>
<path d="M1479.7,1151.6 A196.5,193.9 0 0 1 1475.2,1167.6" stroke-width="3.8" fill="none" stroke-linecap="round" stroke-linejoin="round"/>
<path d="M1475.2,1167.6 A196.5,193.9 0 0 1 1469.4,1183.1" stroke-width="3.9" fill="none" stroke-linecap="round" stroke-linejoin="round"/>
<path d="M1469.4,1183.1 A196.5,193.9 0 0 1 1462.3,1198.1" stroke-width="4" fill="none" stroke-linecap="round" stroke-linejoin="round"/>
<path d="M1462.3,1198.1 A196.5,193.9 0 0 1 1454,1212.4" stroke-width="4.1" fill="none" stroke-linecap="round" stroke-linejoin="round"/>
<path d="M1454,1212.4 A196.5,193.9 0 0 1 1444.4,1225.9" stroke-width="4.2" fill="none" stroke-linecap="round" stroke-linejoin="round"/>
<path d="M1444.4,1225.9 A196.5,193.9 0 0 1 1433.7,1238.7" stroke-width="4.3" fill="none" stroke-linecap="round" stroke-linejoin="round"/>
<path d="M1433.7,1238.7 A196.5,193.9 0 0 1 1421.9,1250.4" stroke-width="4.4" fill="none" stroke-linecap="round" stroke-linejoin="round"/>
<path d="M1421.9,1250.4 A196.5,193.9 0 0 1 1409.1,1261.2" stroke-width="4.5" fill="none" stroke-linecap="round" stroke-linejoin="round"/>
<path d="M1409.1,1261.2 A196.5,193.9 0 0 1 1395.5,1270.8" stroke-width="4.6" fill="none" stroke-linecap="round" stroke-linejoin="round"/>
<path d="M1395.5,1270.8 A196.5,193.9 0 0 1 1381.1,1279.2" stroke-width="4.7" fill="none" stroke-linecap="round" stroke-linejoin="round"/>
<path d="M1381.1,1279.2 A196.5,193.9 0 0 1 1366,1286.4" stroke-width="4.8" fill="none" stroke-linecap="round" stroke-linejoin="round"/>
<path d="M1366,1286.4 A196.5,193.9 0 0 1 1350.3,1292.3" stroke-width="4.9" fill="none" stroke-linecap="round" stroke-linejoin="round"/>
<path d="M1350.3,1292.3 A196.5,193.9 0 0 1 1334.2,1296.9" stroke-width="4.9" fill="none" stroke-linecap="round" stroke-linejoin="round"/>
<path d="M1334.2,1296.9 A196.5,193.9 0 0 1 1317.8,1300.1" stroke-width="5" fill="none" stroke-linecap="round" stroke-linejoin="round"/>
<path d="M1317.8,1300.1 A196.5,193.9 0 0 1 1301.1,1301.9" stroke-width="5" fill="none" stroke-linecap="round" stroke-linejoin="round"/>
<path d="M1301.1,1301.9 A196.5,193.9 0 0 1 1284.4,1302.3" stroke-width="5" fill="none" stroke-linecap="round" stroke-linejoin="round"/>
<path d="M1284.4,1302.3 A196.5,193.9 0 0 1 1267.6,1301.2" stroke-width="5" fill="none" stroke-linecap="round" stroke-linejoin="round"/>
<path d="M1267.6,1301.2 A196.5,193.9 0 0 1 1251,1298.8" stroke-width="5" fill="none" stroke-linecap="round" stroke-linejoin="round"/>
<path d="M1251,1298.8 A196.5,193.9 0 0 1 1234.7,1295" stroke-width="4.9" fill="none" stroke-linecap="round" stroke-linejoin="round"/>
<path d="M1234.7,1295 A196.5,193.9 0 0 1 1218.8,1289.8" stroke-width="4.8" fill="none" stroke-linecap="round" stroke-linejoin="round"/>
<path d="M1218.8,1289.8 A196.5,193.9 0 0 1 1203.4,1283.4" stroke-width="4.8" fill="none" stroke-linecap="round" stroke-linejoin="round"/>
<path d="M1203.4,1283.4 A196.5,193.9 0 0 1 1188.6,1275.6" stroke-width="4.7" fill="none" stroke-linecap="round" stroke-linejoin="round"/>
<path d="M1188.6,1275.6 A196.5,193.9 0 0 1 1174.5,1266.6" stroke-width="4.6" fill="none" stroke-linecap="round" stroke-linejoin="round"/>
<path d="M1174.5,1266.6 A196.5,193.9 0 0 1 1161.3,1256.5" stroke-width="4.5" fill="none" stroke-linecap="round" stroke-linejoin="round"/>
<path d="M1131.2,1225.1 A196.5,193.9 0 0 1 1121.7,1211.5" stroke-width="4" fill="none" stroke-linecap="round" stroke-linejoin="round"/>
<path d="M1121.7,1211.5 A196.5,193.9 0 0 1 1113.4,1197.2" stroke-width="3.9" fill="none" stroke-linecap="round" stroke-linejoin="round"/>
<path d="M1113.4,1197.2 A196.5,193.9 0 0 1 1106.4,1182.3" stroke-width="3.8" fill="none" stroke-linecap="round" stroke-linejoin="round"/>
<path d="M1106.4,1182.3 A196.5,193.9 0 0 1 1100.7,1166.8" stroke-width="3.7" fill="none" stroke-linecap="round" stroke-linejoin="round"/>
<path d="M1100.7,1166.8 A196.5,193.9 0 0 1 1096.4,1150.9" stroke-width="3.6" fill="none" stroke-linecap="round" stroke-linejoin="round"/>
<path d="M1096.4,1150.9 A196.5,193.9 0 0 1 1093.4,1134.6" stroke-width="3.5" fill="none" stroke-linecap="round" stroke-linejoin="round"/>
<path d="M1093.4,1134.6 A196.5,193.9 0 0 1 1091.9,1118.2" stroke-width="3.5" fill="none" stroke-linecap="round" stroke-linejoin="round"/>
<path d="M1091.9,1118.2 A196.5,193.9 0 0 1 1091.7,1101.8" stroke-width="3.4" fill="none" stroke-linecap="round" stroke-linejoin="round"/>
<path d="M1091.7,1101.8 A196.5,193.9 0 0 1 1093,1085.3" stroke-width="3.4" fill="none" stroke-linecap="round" stroke-linejoin="round"/>
<path d="M1093,1085.3 A196.5,193.9 0 0 1 1095.7,1069.1" stroke-width="3.4" fill="none" stroke-linecap="round" stroke-linejoin="round"/>
<path d="M1095.7,1069.1 A196.5,193.9 0 0 1 1099.8,1053.1" stroke-width="3.4" fill="none" stroke-linecap="round" stroke-linejoin="round"/>
<path d="M1099.8,1053.1 A196.5,193.9 0 0 1 1105.2,1037.5" stroke-width="3.4" fill="none" stroke-linecap="round" stroke-linejoin="round"/>
<path d="M1105.2,1037.5 A196.5,193.9 0 0 1 1112,1022.4" stroke-width="3.4" fill="none" stroke-linecap="round" stroke-linejoin="round"/>
<path d="M1112,1022.4 A196.5,193.9 0 0 1 1120,1008" stroke-width="3.4" fill="none" stroke-linecap="round" stroke-linejoin="round"/>
<path d="M1120,1008 A196.5,193.9 0 0 1 1129.2,994.3" stroke-width="3.5" fill="none" stroke-linecap="round" stroke-linejoin="round"/>
<path d="M1129.2,994.3 A196.5,193.9 0 0 1 1139.6,981.4" stroke-width="3.5" fill="none" stroke-linecap="round" stroke-linejoin="round"/>
<path d="M1139.6,981.4 A196.5,193.9 0 0 1 1151.1,969.4" stroke-width="3.6" fill="none" stroke-linecap="round" stroke-linejoin="round"/>
<path d="M1151.1,969.4 A196.5,193.9 0 0 1 1163.6,958.4" stroke-width="3.7" fill="none" stroke-linecap="round" stroke-linejoin="round"/>
<path d="M1163.6,958.4 A196.5,193.9 0 0 1 1176.9,948.5" stroke-width="3.8" fill="none" stroke-linecap="round" stroke-linejoin="round"/>
<path d="M1176.9,948.5 A196.5,193.9 0 0 1 1191.1,939.8" stroke-width="3.8" fill="none" stroke-linecap="round" stroke-linejoin="round"/>
<path d="M1191.1,939.8 A196.5,193.9 0 0 1 1205.9,932.3" stroke-width="3.9" fill="none" stroke-linecap="round" stroke-linejoin="round"/>
<path d="M1205.9,932.3 A196.5,193.9 0 0 1 1221.4,926" stroke-width="3.9" fill="none" stroke-linecap="round" stroke-linejoin="round"/>
<path d="M1221.4,926 A196.5,193.9 0 0 1 1237.3,921.1" stroke-width="4" fill="none" stroke-linecap="round" stroke-linejoin="round"/>
<path d="M1237.3,921.1 A196.5,193.9 0 0 1 1253.6,917.5" stroke-width="4" fill="none" stroke-linecap="round" stroke-linejoin="round"/>
<path d="M1253.6,917.5 A196.5,193.9 0 0 1 1270.2,915.3" stroke-width="4.1" fill="none" stroke-linecap="round" stroke-linejoin="round"/>
<path d="M1270.2,915.3 A196.5,193.9 0 0 1 1286.8,914.5" stroke-width="4.1" fill="none" stroke-linecap="round" stroke-linejoin="round"/>
<path d="M1286.8,914.5 A196.5,193.9 0 0 1 1303.5,915.1" stroke-width="4.1" fill="none" stroke-linecap="round" stroke-linejoin="round"/>
<path d="M1303.5,915.1 A196.5,193.9 0 0 1 1320.1,917.1" stroke-width="4.1" fill="none" stroke-linecap="round" stroke-linejoin="round"/>
<path d="M1320.1,917.1 A196.5,193.9 0 0 1 1336.5,920.5" stroke-width="4.1" fill="none" stroke-linecap="round" stroke-linejoin="round"/>
<path d="M1336.5,920.5 A196.5,193.9 0 0 1 1352.5,925.2" stroke-width="4.1" fill="none" stroke-linecap="round" stroke-linejoin="round"/>
<path d="M1352.5,925.2 A196.5,193.9 0 0 1 1368,931.2" stroke-width="4" fill="none" stroke-linecap="round" stroke-linejoin="round"/>
<path d="M1368,931.2 A196.5,193.9 0 0 1 1382.9,938.6" stroke-width="4" fill="none" stroke-linecap="round" stroke-linejoin="round"/>
<path d="M1382.9,938.6 A196.5,193.9 0 0 1 1397.2,947.1" stroke-width="3.9" fill="none" stroke-linecap="round" stroke-linejoin="round"/>
<path d="M1397.2,947.1 A196.5,193.9 0 0 1 1410.7,956.9" stroke-width="3.9" fill="none" stroke-linecap="round" stroke-linejoin="round"/>
<path d="M1469.4,1064.8 L1479,1064.8" stroke-width="2.4" fill="none" stroke-linecap="round" stroke-linejoin="round"/>
<path d="M1469.4,1077.1 L1480,1077.1" stroke-width="2.4" fill="none" stroke-linecap="round" stroke-linejoin="round"/>
<path d="M1307,1110 L1765,1109.6" stroke-width="5.6" fill="none" stroke-linecap="round" stroke-linejoin="round"/>
<path d="M1726,1109 L1692,1118 L1702.2,1109 L1692,1100 Z" stroke-width="1" fill="#000" stroke-linejoin="round"/>
<path d="M1363.2,1109.5 A11,11 0 0 1 1385.2,1109.5" stroke-width="2.4" fill="none" stroke-linecap="round" stroke-linejoin="round"/>
<path d="M1608.3,1109.5 A9.8,9.8 0 0 1 1627.9,1109.5" stroke-width="2.4" fill="none" stroke-linecap="round" stroke-linejoin="round"/>
<path d="M1274.7,1096.2 A19.2,19.2 0 0 1 1300.9,1124.4" stroke-width="2.8" fill="none" stroke-linecap="round" stroke-linejoin="round"/>
<path d="M1274.7,1096.2 L1042.2,1312.3" stroke-width="2.8" fill="none" stroke-linecap="round" stroke-linejoin="round"/>
<path d="M1300.9,1124.4 L1087.4,1322.6" stroke-width="2.8" fill="none" stroke-linecap="round" stroke-linejoin="round"/>
<path d="M1011.7,1325.1 Q1022,1312 1042.2,1313.3 L1155.2,1344.2 Q1166,1350 1165.5,1359.6 L1162.4,1364.7" stroke-width="3.2" fill="none" stroke-linecap="round" stroke-linejoin="round"/>
<path d="M1022.5,1393 A35,35 0 0 1 1011.7,1325.1" stroke-width="3.4" fill="none" stroke-linecap="round" stroke-linejoin="round"/>
<path d="M1013.5,1326.7 L1149,1350.3" stroke-width="2.6" fill="none" stroke-linecap="round" stroke-linejoin="round"/>
<path d="M1023.7,1392.8 L1140.8,1368.8" stroke-width="2.8" fill="none" stroke-linecap="round" stroke-linejoin="round"/>
<circle cx="1023.2" cy="1357" r="20.5" stroke-width="3" fill="#fff"/>
<circle cx="1147" cy="1357.5" r="9.2" stroke-width="2.6" fill="#fff"/>
<path d="M1142.9,1367.5 L1128.5,1400.7" stroke-width="2.8" fill="none" stroke-linecap="round" stroke-linejoin="round"/>
<path d="M1155.2,1365.7 L1167.5,1400.7" stroke-width="2.8" fill="none" stroke-linecap="round" stroke-linejoin="round"/>
<path d="M1162.4,1364.7 L1177.8,1395.5" stroke-width="2.6" fill="none" stroke-linecap="round" stroke-linejoin="round"/>
<path d="M1087.4,1403.5 L1214.8,1402.7" stroke-width="3" fill="none" stroke-linecap="round" stroke-linejoin="round"/>
<path d="M1095.6,1397.6 L1124.4,1397.6" stroke-width="2.4" fill="none" stroke-linecap="round" stroke-linejoin="round"/>
<path d="M1175.7,1395.5 L1210.7,1395.5" stroke-width="2.4" fill="none" stroke-linecap="round" stroke-linejoin="round"/>
<path d="M1098.5,1406.5 Q1093.5,1412 1090.5,1421" stroke-width="2.6" fill="none" stroke-linecap="round" stroke-linejoin="round"/>
<path d="M1108.3,1406.5 Q1103.3,1412 1100.3,1421" stroke-width="2.6" fill="none" stroke-linecap="round" stroke-linejoin="round"/>
<path d="M1118.1,1406.5 Q1113.1,1412 1110.1,1421" stroke-width="2.6" fill="none" stroke-linecap="round" stroke-linejoin="round"/>
<path d="M1127.9,1406.5 Q1122.9,1412 1119.9,1421" stroke-width="2.6" fill="none" stroke-linecap="round" stroke-linejoin="round"/>
<path d="M1137.7,1406.5 Q1132.7,1412 1129.7,1421" stroke-width="2.6" fill="none" stroke-linecap="round" stroke-linejoin="round"/>
<path d="M1147.5,1406.5 Q1142.5,1412 1139.5,1421" stroke-width="2.6" fill="none" stroke-linecap="round" stroke-linejoin="round"/>
<path d="M1157.3,1406.5 Q1152.3,1412 1149.3,1421" stroke-width="2.6" fill="none" stroke-linecap="round" stroke-linejoin="round"/>
<path d="M1167.1,1406.5 Q1162.1,1412 1159.1,1421" stroke-width="2.6" fill="none" stroke-linecap="round" stroke-linejoin="round"/>
<path d="M1176.9,1406.5 Q1171.9,1412 1168.9,1421" stroke-width="2.6" fill="none" stroke-linecap="round" stroke-linejoin="round"/>
<path d="M1186.7,1406.5 Q1181.7,1412 1178.7,1421" stroke-width="2.6" fill="none" stroke-linecap="round" stroke-linejoin="round"/>
<path d="M1196.5,1406.5 Q1191.5,1412 1188.5,1421" stroke-width="2.6" fill="none" stroke-linecap="round" stroke-linejoin="round"/>
<path d="M1206.3,1406.5 Q1201.3,1412 1198.3,1421" stroke-width="2.6" fill="none" stroke-linecap="round" stroke-linejoin="round"/>
<path d="M1216.1,1406.5 Q1211.1,1412 1208.1,1421" stroke-width="2.6" fill="none" stroke-linecap="round" stroke-linejoin="round"/>
<path d="M1003.1,1304.1 A64.1,64.1 0 0 1 1124.9,1299.9" stroke-width="5" fill="none" stroke-linecap="round" stroke-linejoin="round"/>
<path d="M1128.5,1328.8 L1121,1297 L1127.8,1304.8 L1134,1296.6 Z" stroke-width="1" fill="#000" stroke-linejoin="round"/>
<circle cx="1153" cy="1062.4" r="9.9" stroke-width="3" fill="#fff"/>
<path d="M1067.7,978.1 L1146,1055.5" stroke-width="2.4" fill="none" stroke-linecap="round" stroke-linejoin="round"/>
<path d="M1373.7,1101.7 A87,87 0 0 0 1254.4,1028.6" stroke-width="2.8" fill="none" stroke-linecap="round" stroke-linejoin="round"/>
<path d="M1241.4,1037.7 L1259.4,1020.6 L1257.2,1029.2 L1265.6,1032 Z" stroke-width="1" fill="#000" stroke-linejoin="round"/>
<path d="M1617.6,1098 Q1614.6,1051.4 1604,1030" stroke-width="2.8" fill="none" stroke-linecap="round" stroke-linejoin="round"/>
<path d="M1598.5,1004.4 L1611.8,1032.2 L1603.3,1026.4 L1598.1,1035.2 Z" stroke-width="1" fill="#000" stroke-linejoin="round"/>
<circle cx="1464.5" cy="1185.8" r="9.3" stroke-width="3" fill="#fff"/>
<path d="M1473.5,1190 L1556.1,1226 L1582,1173" stroke-width="5" fill="none" stroke-linecap="round" stroke-linejoin="round"/>
<path d="M1587.9,1161.4 L1582.1,1189.7 L1578.8,1180.3 L1569.5,1183.6 Z" stroke-width="1" fill="#000" stroke-linejoin="round"/>
<circle cx="1451" cy="1076" r="19.5" stroke-width="2.8" fill="#fff"/>
<circle cx="1451" cy="1076" r="5.6" stroke="none" fill="#000"/>
<path d="M1440.1,1094.2 L1403.5,1152.8" stroke-width="2.4" fill="none" stroke-linecap="round" stroke-linejoin="round"/>
<path d="M1422.2,826.4 Q1424.3,872.6 1459.2,914.8" stroke-width="4.2" fill="none" stroke-linecap="round" stroke-linejoin="round"/>
<path d="M1459.2,914.8 L1409.9,962 Q1390,985 1393.4,1005 Q1398,1025 1420.1,1046.3 L1398.6,1052.5 L1444.8,1066.8 L1454,1011.4 L1440.7,1030.9 Q1425,1012 1424.5,995 Q1426,986 1436.6,978.5 L1480.7,936.4" stroke-width="3.8" fill="none" stroke-linecap="round" stroke-linejoin="round"/>
<path d="M1480.7,936.4 Q1521.8,963 1575.3,969.2" stroke-width="4" fill="none" stroke-linecap="round" stroke-linejoin="round"/>
<path d="M924.3,918.4 L924.3,995" stroke-width="2.8" fill="none" stroke-linecap="round" stroke-linejoin="round"/>
<path d="M1058.5,916 L1058.5,991.7" stroke-width="2.8" fill="none" stroke-linecap="round" stroke-linejoin="round"/>
<path transform="matrix(36.700 0 0 37.800 946.8 934.7)" d="M0.40,0.83 C0.40,0.70 0.05,0.70 0.05,0.45 C0.05,0.20 0.27,0.07 0.52,0.07 C0.78,0.07 0.95,0.22 0.95,0.42 C0.95,0.63 0.64,0.68 0.62,0.83" fill="none" stroke-width="5.3" vector-effect="non-scaling-stroke" stroke-linecap="butt"/>
<path d="M947.5,966.1 L963.7,964.9 L963.3,972.5 L947.9,972.5 Z" stroke="none" fill="#000"/>
<path d="M967.4,964.9 L982.4,965.7 L982.4,972.5 L967.4,972.5 Z" stroke="none" fill="#000"/>
<path d="M 994.5,950.3 L 1012.4,950.3 M 994.1,958.6 L 1012,958.6" stroke-width="3.1" fill="none" stroke-linecap="round" stroke-linejoin="round"/>
<path d="M 1037.4,937.2 C 1042.3,937.2 1042.9,940.4 1041.7,946.7 L 1039.1,959.4 C 1037.9,965.7 1036,968.9 1031.1,968.9 C 1026.2,968.9 1025.6,965.7 1026.8,959.4 L 1029.4,946.7 C 1030.6,940.4 1032.5,937.2 1037.4,937.2 Z" stroke-width="3.8" fill="none" stroke-linecap="round" stroke-linejoin="round"/>
<path transform="matrix(39.100 0 0 36.000 1185.9 965.8)" d="M0.40,0.83 C0.40,0.70 0.05,0.70 0.05,0.45 C0.05,0.20 0.27,0.07 0.52,0.07 C0.78,0.07 0.95,0.22 0.95,0.42 C0.95,0.63 0.64,0.68 0.62,0.83" fill="none" stroke-width="5" vector-effect="non-scaling-stroke" stroke-linecap="butt"/>
<path d="M1186.7,995.7 L1203.9,994.6 L1203.5,1001.8 L1187.1,1001.8 Z" stroke="none" fill="#000"/>
<path d="M1207.8,994.6 L1223.8,995.3 L1223.8,1001.8 L1207.8,1001.8 Z" stroke="none" fill="#000"/>
<path d="M 1237,995.5 C 1236.3,993.8 1235,993.2 1233.2,993.2 C 1230.8,993.2 1229.1,995.5 1229,998.4 C 1228.8,1001.8 1230.9,1002.4 1232.6,1003.1 C 1234.8,1003.9 1236.5,1005 1236.3,1008.1 C 1236.1,1011 1234.3,1012.3 1232.1,1012.3 C 1230.3,1012.3 1228.8,1011.4 1228,1009.6" stroke-width="3.4" fill="none" stroke-linecap="round" stroke-linejoin="round"/>
<path d="M 1256.8,977.7 L 1275.7,977.7 M 1256.3,986.7 L 1275.2,986.7" stroke-width="3.1" fill="none" stroke-linecap="round" stroke-linejoin="round"/>
<path transform="matrix(39.000 0 0 37.000 1287.6 964.8)" d="M0.40,0.83 C0.40,0.70 0.05,0.70 0.05,0.45 C0.05,0.20 0.27,0.07 0.52,0.07 C0.78,0.07 0.95,0.22 0.95,0.42 C0.95,0.63 0.64,0.68 0.62,0.83" fill="none" stroke-width="5.2" vector-effect="non-scaling-stroke" stroke-linecap="butt"/>
<path d="M1288.4,995.5 L1305.5,994.4 L1305.1,1001.8 L1288.8,1001.8 Z" stroke="none" fill="#000"/>
<path d="M1309.4,994.4 L1325.4,995.1 L1325.4,1001.8 L1309.4,1001.8 Z" stroke="none" fill="#000"/>
<path d="M1332.2,994.3 L1339.6,984.1 L1334.4,1009.2" stroke-width="3.4" fill="none" stroke-linecap="round" stroke-linejoin="round"/>
<path d="M 1476.5,904.7 L 1482.7,873.5 L 1493.3,873.5 C 1498.6,873.5 1499.6,877.3 1498.7,881.9 C 1497.7,886.9 1494.8,890.7 1489.9,890.7 L 1479.3,890.7" stroke-width="3.8" fill="none" stroke-linecap="round" stroke-linejoin="round"/>
<path d="M 1498.2,900.5 C 1500.5,898.3 1502.4,898 1504.2,898 C 1507.9,898 1509.6,901.7 1508.7,906.5 C 1507.6,911.7 1504.5,915.1 1500.8,915.1 C 1498.3,915.1 1496.3,914.3 1495.3,911.7 M 1500.7,906.5 L 1508.7,906.5" stroke-width="3.3" fill="none" stroke-linecap="round" stroke-linejoin="round"/>
<path d="M 1511.5,915.1 L 1515,898 L 1521,908.6 L 1531.3,898 L 1527.9,915.1" stroke-width="3.3" fill="none" stroke-linecap="round" stroke-linejoin="round"/>
<path d="M 1549.6,882.6 L 1570.6,882.6 M 1549.1,891.5 L 1570.1,891.5" stroke-width="3.1" fill="none" stroke-linecap="round" stroke-linejoin="round"/>
<path d="M 1582.2,902.7 L 1587.7,875.5 L 1597,875.5 C 1601.6,875.5 1602.5,878.8 1601.7,882.9 C 1600.8,887.2 1598.3,890.5 1594,890.5 L 1584.7,890.5" stroke-width="3.7" fill="none" stroke-linecap="round" stroke-linejoin="round"/>
<path d="M 1605.2,894.3 C 1607.7,891.2 1609.6,890.8 1611.4,890.8 C 1615.1,890.8 1616.5,895.9 1615.2,902.4 C 1613.8,909.4 1610.4,914 1606.8,914 C 1604.3,914 1602.4,912.9 1601.6,909.4 M 1607.3,902.4 L 1615.2,902.4" stroke-width="3.5" fill="none" stroke-linecap="round" stroke-linejoin="round"/>
<path d="M 1621.5,896.6 C 1622.9,892.6 1625.7,890.8 1628.4,890.8 C 1631.8,890.8 1633,894 1632.1,898.2 C 1631.2,902.9 1626.8,906.6 1622.5,910.1 L 1617.4,914 L 1629.6,914" stroke-width="3.5" fill="none" stroke-linecap="round" stroke-linejoin="round"/>
<path transform="matrix(37.000 0 0 33.900 1536.2 1012.4)" d="M0.40,0.83 C0.40,0.70 0.05,0.70 0.05,0.45 C0.05,0.20 0.27,0.07 0.52,0.07 C0.78,0.07 0.95,0.22 0.95,0.42 C0.95,0.63 0.64,0.68 0.62,0.83" fill="none" stroke-width="4.7" vector-effect="non-scaling-stroke" stroke-linecap="butt"/>
<path d="M1536.9,1040.5 L1553.2,1039.5 L1552.9,1046.3 L1537.3,1046.3 Z" stroke="none" fill="#000"/>
<path d="M1556.9,1039.5 L1572.1,1040.2 L1572.1,1046.3 L1556.9,1046.3 Z" stroke="none" fill="#000"/>
<path d="M1581.8,1043.8 L1589.2,1034 L1584,1057.8" stroke-width="3.4" fill="none" stroke-linecap="round" stroke-linejoin="round"/>
<path d="M 1693.5,1065.1 L 1700,1032.9 L 1707.7,1032.9 C 1712,1032.9 1712.7,1036.1 1711.9,1040.3 C 1711,1044.8 1708.6,1047.7 1704.8,1047.7 L 1697,1047.7 M 1704.8,1047.7 C 1709.4,1047.7 1710.3,1051.6 1709.4,1056.4 C 1708.3,1061.9 1705.5,1065.1 1701.3,1065.1 L 1693.5,1065.1" stroke-width="3.9" fill="none" stroke-linecap="round" stroke-linejoin="round"/>
<circle cx="1707.4" cy="1022.3" r="4.5" stroke="none" fill="#000"/>
<path d="M 1718.8,1070.8 L 1722,1054.9 M 1721.1,1059.7 C 1722.9,1056.2 1726.3,1054.9 1729.2,1054.9 C 1732.5,1054.9 1733.7,1056.5 1733.1,1059.4 L 1730.8,1070.8 M 1733.1,1059.4 C 1734.9,1056.2 1738.3,1054.9 1741.2,1054.9 C 1744.5,1054.9 1745.6,1056.5 1745.1,1059.4 L 1742.8,1070.8" stroke-width="3.3" fill="none" stroke-linecap="round" stroke-linejoin="round"/>
<path d="M 1375.3,1167.8 L 1370.2,1191" stroke-width="4" fill="none" stroke-linecap="round" stroke-linejoin="round"/>
<circle cx="1377.7" cy="1157" r="3" stroke="none" fill="#000"/>
<path d="M 1393.8,1182.7 C 1395.4,1178.6 1398.7,1176.6 1401.9,1176.6 C 1406,1176.6 1407.5,1180 1406.6,1184.4 C 1405.7,1189.3 1400.5,1193.3 1395.4,1196.9 L 1389.4,1201.1 L 1404,1201.1" stroke-width="3.6" fill="none" stroke-linecap="round" stroke-linejoin="round"/>
<path d="M 1431,1176.6 L 1426.1,1201.1 M 1429,1186.4 C 1429.6,1179.5 1426.9,1176.6 1422.7,1176.6 C 1417.7,1176.6 1413.2,1182.7 1411.7,1190.1 C 1410.4,1196.7 1412.5,1201.1 1417,1201.1 C 1421.5,1201.1 1425.5,1197.4 1428.1,1191.3" stroke-width="3.6" fill="none" stroke-linecap="round" stroke-linejoin="round"/>
<path d="M 1598.3,1215.6 L 1604.7,1183.9 L 1610.3,1203.5 L 1623.8,1183.9 L 1617.4,1215.6" stroke-width="3.8" fill="none" stroke-linecap="round" stroke-linejoin="round"/>
<path d="M963,1180.8 L963,1252.7" stroke-width="2.8" fill="none" stroke-linecap="round" stroke-linejoin="round"/>
<path d="M1037.7,1182.9 L1037.7,1250.7" stroke-width="2.8" fill="none" stroke-linecap="round" stroke-linejoin="round"/>
<path d="M 977.3,1227.2 L 983.3,1197.1 L 987.5,1215.8 L 999.2,1197.1 L 993.2,1227.2" stroke-width="3.8" fill="none" stroke-linecap="round" stroke-linejoin="round"/>
<path d="M 1009,1240.8 L 1011.7,1221.6 L 1016.8,1221.6 C 1019.6,1221.6 1020.3,1223.5 1019.9,1226 C 1019.5,1228.7 1018.1,1230.4 1015.6,1230.4 L 1010.4,1230.4 M 1015.6,1230.4 C 1018.6,1230.4 1019.4,1232.7 1019,1235.6 C 1018.6,1238.9 1016.9,1240.8 1014.1,1240.8 L 1009,1240.8" stroke-width="3.4" fill="none" stroke-linecap="round" stroke-linejoin="round"/>
<path d="M964,1240.4 Q975,1250 1009.3,1262" stroke-width="1.5" fill="none" stroke-linecap="round" stroke-linejoin="round"/>
<circle cx="971.3" cy="1272.3" r="2" stroke="none" fill="#000"/>
<path d="M 1360.8,1407.2 C 1362.3,1401.4 1367,1398.8 1370,1400.6 C 1372.4,1403.3 1371.3,1408.5 1366.6,1411.2 C 1362,1413.8 1358.6,1416.5 1358.4,1421.7 C 1358.5,1425.7 1361.6,1426.2 1364.9,1425.1 C 1367.5,1424.4 1369,1421.7 1369.9,1417.8" stroke-width="3.7" fill="none" stroke-linecap="round" stroke-linejoin="round"/>
<path d="M 1383.9,1385.8 C 1397.4,1398.9 1398.2,1425.1 1382.3,1438.2" stroke-width="4.6" fill="none" stroke-linecap="round" stroke-linejoin="round"/>
</svg>
</body></html>
